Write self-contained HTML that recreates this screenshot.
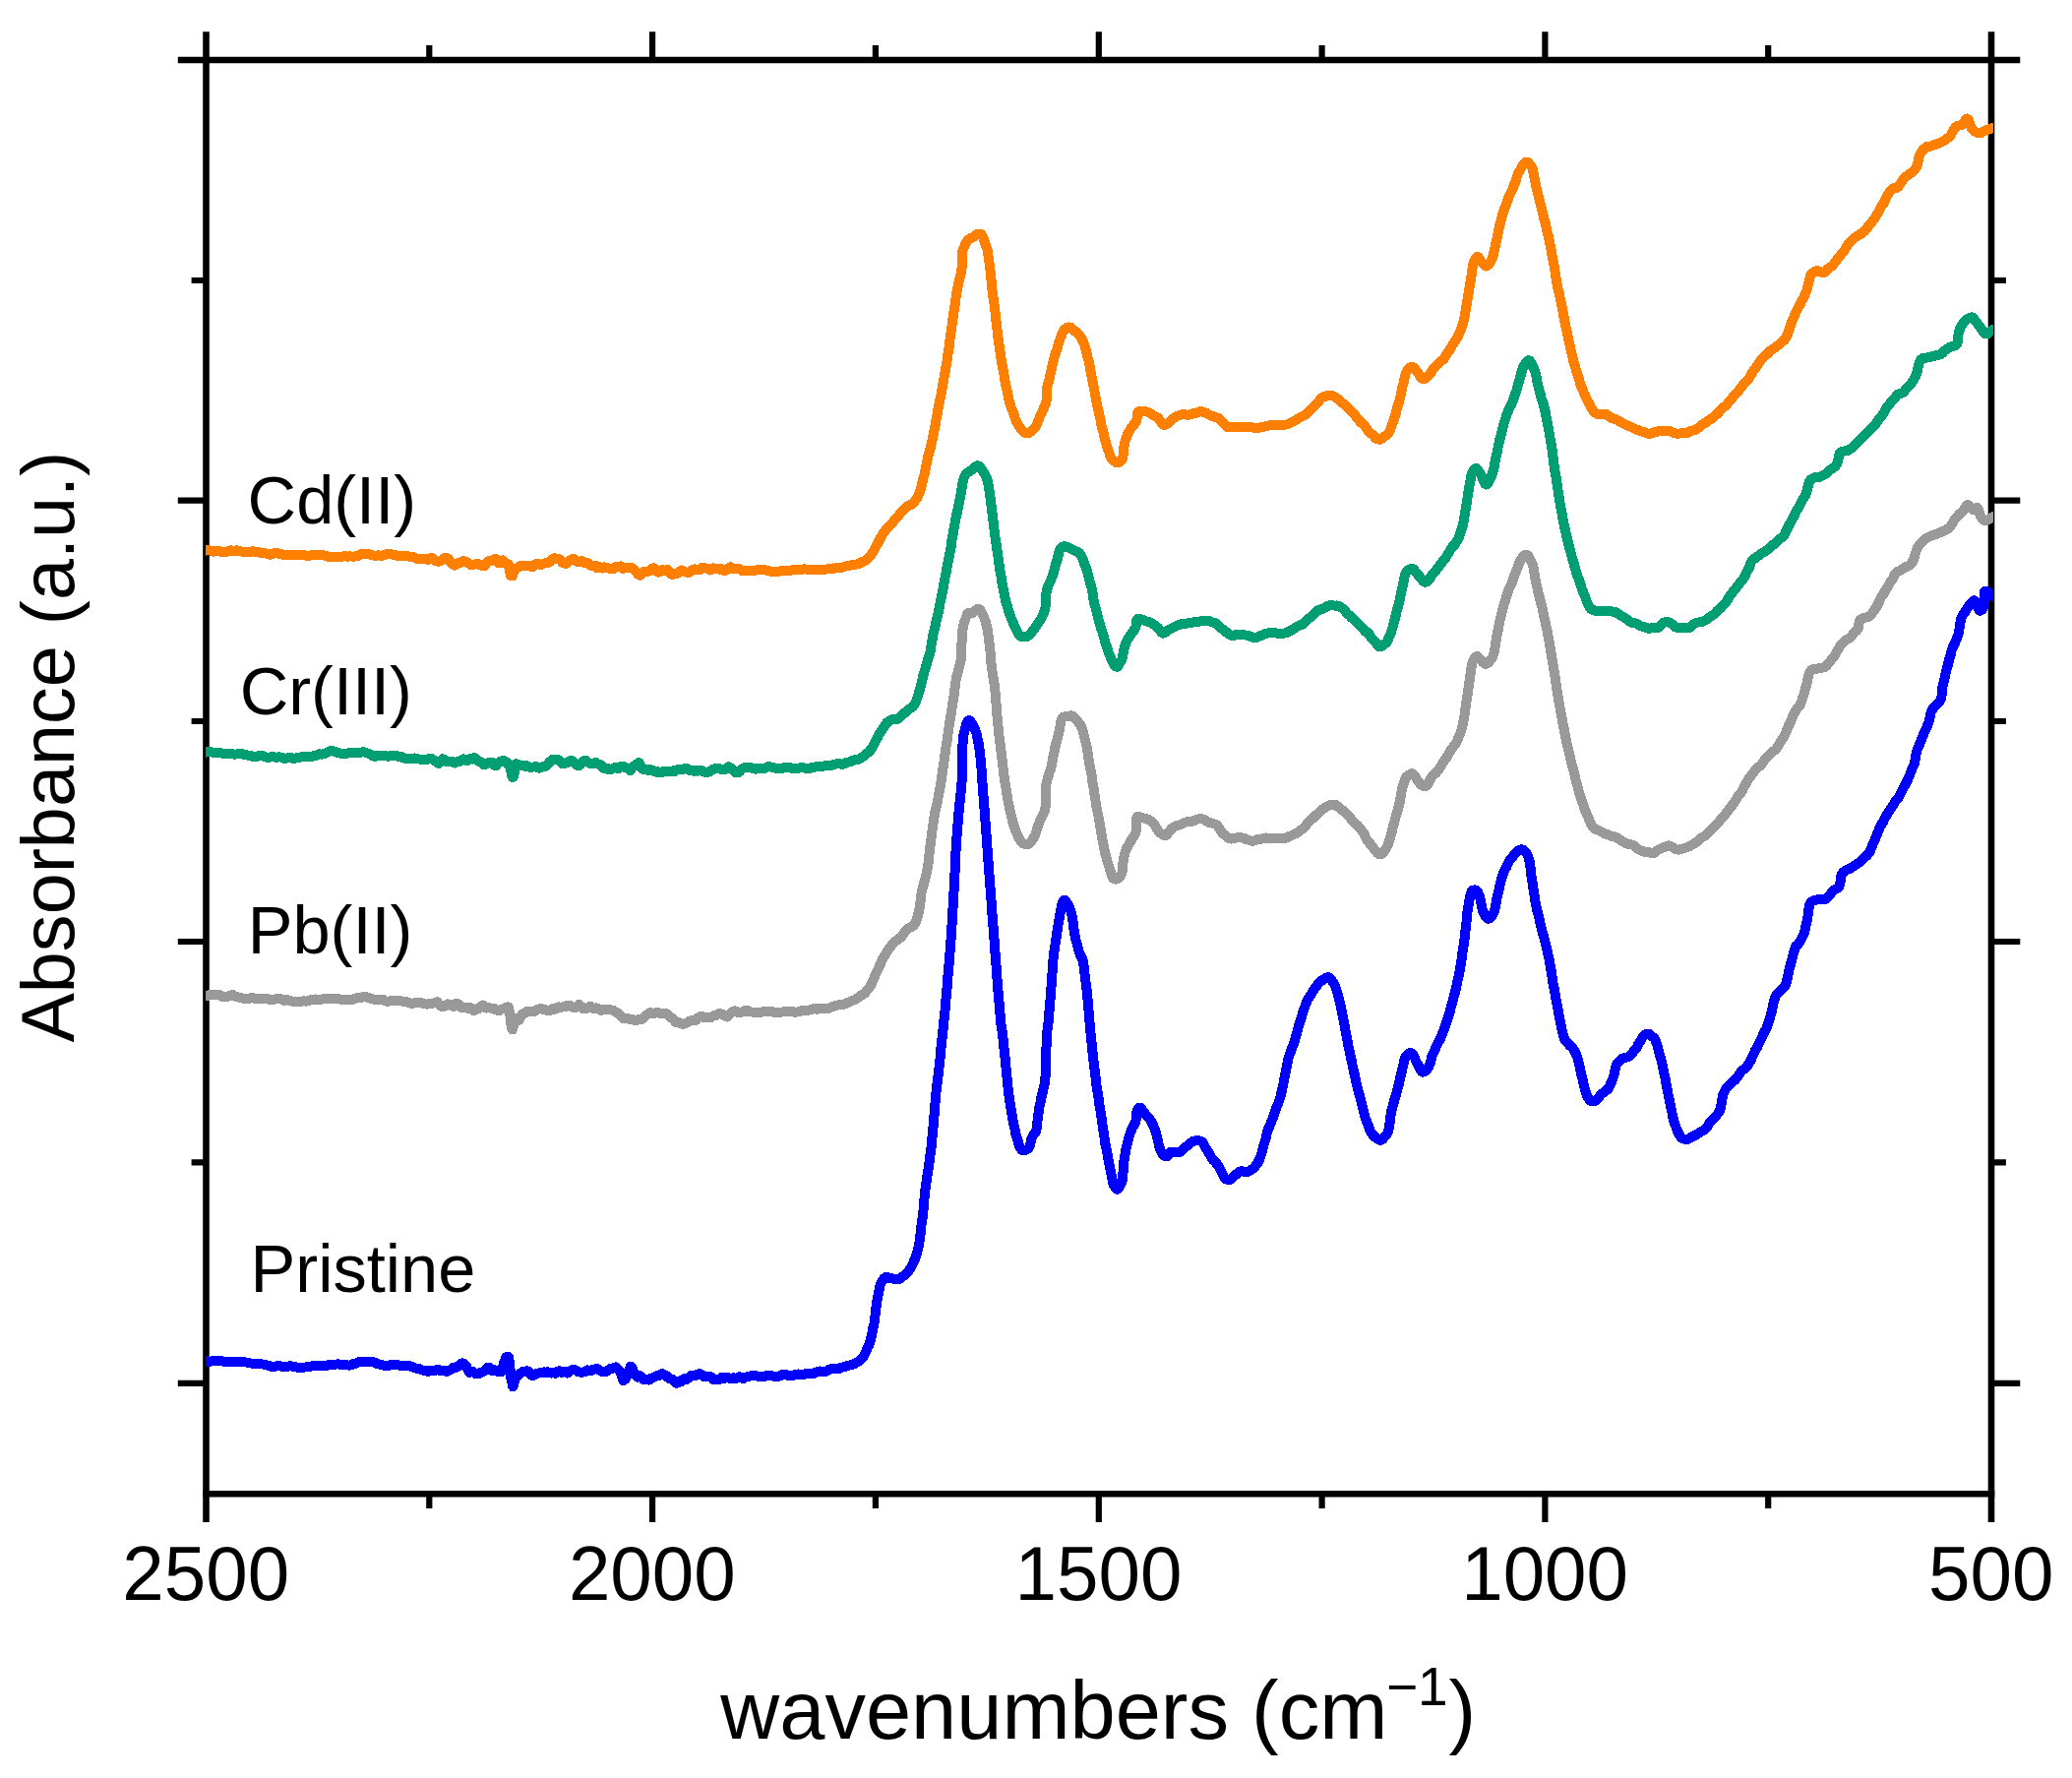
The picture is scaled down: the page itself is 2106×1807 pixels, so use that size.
<!DOCTYPE html>
<html lang="en"><head><meta charset="utf-8"><title>FTIR absorbance spectra</title>
<style>html,body{margin:0;padding:0;background:#fff}svg{display:block}</style></head>
<body>
<svg width="2106" height="1807" viewBox="0 0 2106 1807">
<rect width="2106" height="1807" fill="#fff"/>
<defs><clipPath id="c"><rect x="209" y="20" width="1817" height="1520"/></clipPath></defs>
<g stroke="#000" stroke-width="6.6" fill="none" stroke-linecap="butt">
<path d="M180.79999999999998 61.0H2053.3"/>
<path d="M206.2 1518.2H2027.3"/>
<path d="M209.5 32.2V1547.0"/>
<path d="M2024.0 32.2V1547.0"/>
</g>
<g stroke="#000" stroke-width="6.2" fill="none">
<path d="M663.1 61.0v-28.8M663.1 1518.2v28.8"/>
<path d="M1116.8 61.0v-28.8M1116.8 1518.2v28.8"/>
<path d="M1570.4 61.0v-28.8M1570.4 1518.2v28.8"/>
<path d="M436.3 61.0v-14.899999999999999M436.3 1518.2v14.899999999999999"/>
<path d="M889.9 61.0v-14.899999999999999M889.9 1518.2v14.899999999999999"/>
<path d="M1343.6 61.0v-14.899999999999999M1343.6 1518.2v14.899999999999999"/>
<path d="M1797.2 61.0v-14.899999999999999M1797.2 1518.2v14.899999999999999"/>
<path d="M209.5 508.7h-28.7M2024.0 508.7h29.3"/>
<path d="M209.5 957.0h-28.7M2024.0 957.0h29.3"/>
<path d="M209.5 1405.8h-28.7M2024.0 1405.8h29.3"/>
<path d="M209.5 285.0h-14.899999999999999M2024.0 285.0h14.899999999999999"/>
<path d="M209.5 733.0h-14.899999999999999M2024.0 733.0h14.899999999999999"/>
<path d="M209.5 1181.3h-14.899999999999999M2024.0 1181.3h14.899999999999999"/>
</g>
<g clip-path="url(#c)" fill="none" stroke-width="10.0" stroke-linejoin="round" stroke-linecap="butt" shape-rendering="crispEdges">
<path id="p0" stroke="#0000FF" d="M206.5 1382.7L209.5 1382.7L211.5 1383.9L213.4 1383.8L215.3 1383.3L217.3 1382.8L219.2 1382.6L221.1 1382.8L223.1 1383.1L225.0 1383.3L226.9 1383.5L228.9 1384.1L230.8 1383.9L232.8 1384.0L234.7 1383.9L236.7 1384.0L238.6 1384.2L240.6 1384.2L242.6 1384.0L244.6 1384.5L246.6 1384.4L248.6 1384.4L250.7 1384.6L252.6 1385.0L254.5 1385.5L256.4 1385.5L258.3 1385.5L260.3 1385.6L262.3 1385.7L264.3 1386.3L266.3 1386.4L268.3 1386.7L270.3 1387.3L272.3 1387.7L274.3 1388.3L276.4 1388.9L278.4 1388.9L280.4 1388.6L282.4 1387.9L284.4 1388.1L286.4 1388.8L288.4 1389.1L290.3 1389.1L292.2 1388.8L294.1 1388.3L296.0 1388.3L297.8 1388.7L299.6 1389.0L301.4 1389.4L303.6 1389.9L305.7 1390.0L307.8 1389.9L309.9 1389.5L312.0 1389.4L314.0 1389.2L316.1 1388.6L318.1 1388.1L320.0 1388.2L322.0 1388.1L323.9 1388.1L325.8 1387.8L327.7 1388.1L329.6 1388.4L331.4 1388.0L333.3 1387.4L335.1 1387.0L337.2 1387.0L339.4 1386.9L341.5 1386.6L343.6 1386.2L345.7 1386.7L347.7 1387.4L349.7 1387.5L351.7 1387.4L353.6 1387.5L355.4 1387.6L357.1 1387.2L358.8 1386.2L360.7 1386.2L362.4 1385.4L364.0 1384.5L365.6 1384.0L367.1 1383.8L368.8 1384.1L370.6 1383.7L372.3 1383.8L374.0 1383.7L375.8 1384.1L377.7 1383.9L379.6 1384.3L381.5 1385.0L383.4 1385.9L385.3 1386.4L387.3 1387.0L389.2 1387.5L391.0 1387.6L392.8 1387.9L394.6 1388.1L396.4 1387.4L398.2 1387.5L400.0 1387.2L401.9 1387.0L403.7 1387.0L405.6 1387.5L407.6 1387.8L409.5 1387.7L411.3 1387.9L413.2 1387.6L415.1 1387.8L417.1 1388.4L419.0 1389.2L421.0 1390.1L423.0 1390.6L425.0 1390.9L427.0 1391.4L428.9 1392.3L430.9 1392.8L432.8 1392.6L434.7 1393.8L436.5 1393.6L438.4 1393.2L440.4 1392.8L442.2 1392.8L444.1 1392.2L445.9 1392.2L447.7 1393.5L449.5 1393.4L451.3 1393.0L453.1 1393.7L455.0 1393.6L456.8 1392.7L458.7 1391.4L460.6 1390.0L462.5 1389.8L464.4 1389.5L466.3 1387.8L468.2 1386.1L470.1 1385.3L471.9 1386.0L473.7 1387.8L475.4 1392.2L477.0 1394.9L478.9 1394.0L480.7 1394.0L482.4 1395.3L484.1 1396.5L485.7 1396.4L487.3 1395.4L488.9 1394.9L490.6 1394.1L492.3 1393.4L494.0 1392.2L495.6 1389.6L497.3 1389.8L499.0 1391.7L500.7 1393.1L502.5 1392.2L504.3 1392.8L506.0 1393.9L507.6 1394.5L509.1 1394.4L510.4 1391.5L511.5 1387.3L512.5 1384.0L513.5 1381.6L514.3 1379.6L515.1 1378.9L515.9 1379.3L516.4 1378.7L516.9 1379.1L517.3 1380.5L517.6 1382.6L518.0 1386.9L518.3 1389.8L518.6 1392.2L518.8 1395.8L519.1 1398.8L519.4 1400.4L519.6 1402.0L519.9 1403.4L520.2 1403.3L520.5 1405.6L520.9 1408.5L521.4 1409.5L522.0 1408.4L522.5 1405.5L523.2 1403.0L524.0 1400.7L525.4 1398.5L527.2 1397.2L529.4 1395.5L530.7 1394.6L532.2 1393.6L533.9 1394.1L535.7 1393.3L537.6 1394.1L539.6 1397.1L541.7 1398.1L543.8 1397.3L546.0 1395.6L548.2 1395.4L550.4 1394.9L552.6 1394.4L554.7 1394.9L556.6 1394.1L558.5 1395.1L560.4 1395.6L562.4 1395.3L564.4 1395.7L566.4 1393.9L568.5 1393.3L570.5 1394.8L572.6 1394.6L574.6 1394.0L576.6 1395.5L578.7 1393.6L580.7 1392.5L582.7 1392.3L584.7 1392.4L586.6 1393.5L588.5 1394.4L590.5 1394.6L592.6 1394.6L594.6 1394.1L596.7 1392.4L598.7 1392.9L600.7 1393.0L602.7 1392.0L604.6 1391.5L606.6 1390.9L608.4 1391.8L610.3 1393.1L612.1 1393.9L613.8 1394.2L615.5 1394.0L617.7 1393.0L619.9 1391.2L622.1 1390.8L624.1 1390.0L626.1 1389.4L627.9 1391.0L629.4 1392.6L630.7 1394.5L631.9 1398.0L632.7 1400.4L633.3 1403.0L634.1 1402.9L634.8 1401.9L635.6 1401.5L636.4 1400.6L637.2 1397.0L638.0 1395.5L639.0 1394.0L639.9 1391.3L640.9 1388.7L641.8 1388.8L642.8 1390.4L643.7 1393.4L644.7 1395.4L645.8 1397.2L646.9 1398.6L648.1 1399.6L649.5 1398.6L651.0 1398.3L652.5 1400.1L654.1 1402.2L655.8 1402.1L657.7 1402.0L659.6 1402.6L661.6 1400.9L663.6 1400.1L665.6 1399.2L667.6 1398.1L669.5 1398.1L671.3 1396.8L673.0 1395.9L674.9 1397.1L676.7 1397.7L678.5 1399.6L680.3 1400.9L682.0 1401.4L683.7 1402.0L685.2 1403.9L686.8 1405.7L688.2 1405.7L689.7 1404.7L691.0 1403.3L692.2 1404.3L693.4 1403.6L694.9 1401.6L696.6 1400.9L698.0 1401.8L699.5 1400.6L701.2 1399.6L703.0 1397.7L704.9 1398.0L706.8 1397.9L708.9 1396.6L710.9 1396.2L713.0 1397.1L715.2 1398.9L717.3 1399.1L719.4 1398.9L721.5 1398.6L723.6 1400.3L725.5 1402.5L727.4 1402.2L729.3 1402.1L731.3 1401.8L733.3 1399.8L735.2 1401.1L737.2 1400.5L739.3 1399.8L741.3 1400.4L743.3 1401.3L745.3 1400.2L747.3 1401.0L749.4 1400.3L751.4 1399.3L753.4 1400.3L755.4 1401.2L757.4 1399.7L759.4 1399.2L761.4 1398.9L763.4 1398.3L765.4 1398.5L767.3 1398.4L769.3 1398.4L771.3 1398.9L773.3 1399.1L775.3 1399.0L777.3 1398.7L779.3 1398.2L781.3 1398.1L783.2 1398.2L785.2 1398.5L787.2 1398.7L789.2 1398.8L791.2 1398.7L793.2 1398.2L795.2 1397.2L797.2 1396.9L799.2 1397.3L801.3 1397.9L803.3 1398.0L805.3 1398.1L807.3 1397.5L809.4 1396.7L811.4 1396.5L813.4 1396.8L815.4 1397.2L817.3 1396.8L819.3 1396.0L821.2 1395.8L823.1 1395.8L825.0 1396.4L827.1 1395.8L829.1 1394.6L831.2 1394.1L833.4 1393.5L835.4 1393.9L837.5 1394.2L839.6 1393.6L841.6 1392.7L843.5 1391.5L845.4 1390.9L847.2 1391.1L848.9 1391.2L850.5 1391.5L852.0 1391.2L854.2 1390.2L856.2 1389.5L858.0 1389.2L859.8 1388.6L861.6 1387.8L863.2 1387.6L864.8 1387.1L866.4 1386.8L867.9 1386.3L869.4 1385.4L870.9 1384.5L872.4 1383.7L873.9 1382.6L875.3 1381.6L876.6 1380.3L877.9 1378.5L879.0 1376.1L880.0 1373.9L880.8 1372.1L881.6 1370.1L882.3 1368.6L883.0 1367.6L883.6 1366.2L884.1 1364.6L884.6 1362.6L885.1 1360.7L885.5 1359.1L886.0 1357.5L886.3 1355.7L886.7 1353.6L887.1 1351.4L887.4 1349.4L887.8 1348.2L888.1 1347.3L888.4 1345.9L888.6 1343.9L888.9 1341.7L889.1 1339.7L889.4 1337.9L889.6 1336.4L889.8 1334.9L890.0 1333.4L890.2 1331.7L890.4 1329.7L890.6 1327.7L890.9 1325.9L891.1 1324.3L891.4 1322.4L891.7 1320.7L892.0 1319.0L892.4 1317.3L892.7 1315.2L893.1 1313.0L893.5 1311.1L894.0 1309.1L894.4 1307.2L894.9 1305.4L895.5 1303.8L896.3 1302.4L897.3 1300.9L898.4 1299.6L899.7 1298.5L901.0 1297.8L902.4 1298.1L903.8 1298.8L905.3 1299.2L906.8 1299.4L908.7 1299.8L910.7 1300.4L912.6 1300.5L914.0 1300.0L915.4 1299.1L916.8 1298.0L918.2 1297.0L919.5 1295.9L920.8 1294.8L922.0 1293.5L923.2 1292.1L924.3 1290.7L925.3 1289.1L926.2 1287.5L927.1 1286.0L927.9 1284.4L928.6 1282.6L929.3 1280.9L930.0 1279.4L930.6 1278.0L931.1 1276.5L931.6 1275.0L932.1 1273.4L932.5 1271.8L932.9 1270.1L933.3 1268.4L933.7 1266.6L934.0 1265.1L934.3 1263.4L934.6 1261.3L934.9 1259.2L935.2 1257.2L935.4 1255.3L935.6 1253.4L935.8 1251.7L936.0 1250.1L936.1 1248.5L936.3 1246.9L936.5 1245.3L936.7 1243.5L937.0 1241.5L937.3 1239.8L937.6 1238.2L937.9 1236.0L938.1 1233.5L938.3 1231.5L938.5 1230.2L938.6 1228.9L938.8 1227.1L938.9 1225.0L939.1 1222.9L939.2 1220.9L939.4 1218.9L939.6 1216.9L939.8 1215.1L940.0 1213.1L940.2 1211.0L940.5 1208.8L940.7 1206.7L941.0 1204.8L941.2 1203.4L941.5 1201.8L941.7 1200.0L942.0 1197.9L942.3 1195.7L942.6 1193.8L942.9 1192.2L943.2 1190.5L943.5 1188.9L943.8 1187.1L944.1 1185.1L944.3 1183.0L944.6 1181.0L944.8 1179.0L945.1 1176.9L945.3 1174.7L945.6 1172.6L945.8 1170.8L946.0 1169.1L946.2 1167.7L946.5 1166.4L946.7 1164.6L946.9 1162.4L947.1 1160.0L947.3 1157.8L947.5 1155.6L947.7 1153.5L947.9 1151.4L948.1 1149.5L948.3 1147.7L948.5 1145.8L948.6 1143.8L948.8 1141.7L949.0 1139.7L949.1 1137.5L949.3 1135.4L949.5 1133.7L949.6 1132.2L949.8 1130.6L950.0 1128.4L950.1 1126.2L950.3 1124.2L950.4 1122.3L950.6 1120.2L950.7 1118.2L950.9 1116.3L951.0 1114.6L951.2 1112.9L951.4 1110.9L951.6 1108.9L951.8 1107.1L952.0 1105.5L952.3 1103.7L952.5 1101.8L952.7 1099.8L953.0 1097.8L953.2 1095.9L953.5 1093.9L953.7 1091.8L954.0 1089.8L954.2 1087.7L954.4 1085.9L954.6 1084.2L954.8 1082.0L955.0 1079.7L955.2 1078.2L955.4 1077.0L955.6 1075.2L955.8 1072.7L956.0 1070.2L956.1 1068.4L956.3 1066.8L956.5 1064.8L956.7 1062.7L956.9 1060.8L957.1 1059.1L957.3 1057.2L957.5 1055.5L957.7 1053.8L957.9 1052.1L958.1 1049.9L958.3 1047.7L958.6 1045.7L958.8 1044.1L959.0 1042.3L959.2 1039.9L959.4 1037.4L959.6 1035.6L959.8 1034.6L959.9 1033.4L960.1 1031.7L960.3 1029.8L960.5 1027.8L960.6 1025.6L960.8 1023.1L961.0 1020.7L961.1 1018.7L961.3 1017.0L961.5 1015.2L961.7 1013.2L961.8 1011.2L962.0 1009.3L962.2 1007.6L962.4 1006.0L962.5 1004.3L962.7 1002.4L962.9 1000.1L963.1 997.8L963.2 995.8L963.4 993.8L963.5 991.7L963.7 989.9L963.8 988.1L964.0 986.1L964.2 984.1L964.3 982.2L964.5 980.4L964.7 978.3L964.8 976.2L965.0 974.1L965.1 972.1L965.3 970.0L965.5 968.2L965.6 966.7L965.8 965.0L965.9 963.1L966.1 961.1L966.2 959.1L966.4 957.2L966.5 955.1L966.7 953.2L966.8 951.4L966.9 949.5L967.1 947.1L967.2 944.7L967.3 942.5L967.5 940.4L967.6 938.7L967.7 937.3L967.8 935.6L968.0 933.5L968.1 931.1L968.2 928.9L968.3 926.9L968.4 925.2L968.5 923.3L968.6 921.2L968.8 919.1L968.9 917.1L969.0 915.4L969.1 913.5L969.2 911.5L969.3 909.8L969.4 908.3L969.5 906.8L969.6 904.9L969.7 902.6L969.8 900.1L969.9 898.2L970.0 896.8L970.1 895.4L970.2 893.5L970.3 891.4L970.4 889.1L970.5 887.1L970.5 885.3L970.6 883.3L970.7 881.4L970.8 879.7L970.9 877.9L971.0 875.9L971.1 873.5L971.2 871.0L971.3 868.8L971.4 867.0L971.5 865.4L971.6 863.7L971.7 861.9L971.8 859.9L972.0 857.7L972.1 855.6L972.2 853.9L972.4 852.1L972.5 850.1L972.7 848.4L972.8 847.0L973.0 845.4L973.1 843.3L973.3 841.1L973.4 838.8L973.6 836.7L973.7 834.8L973.9 832.8L974.0 830.8L974.2 829.1L974.3 827.4L974.5 825.7L974.7 823.8L974.9 821.8L975.1 819.6L975.3 817.5L975.5 815.6L975.7 813.6L975.9 811.4L976.2 809.2L976.4 807.0L976.6 805.3L976.8 803.8L976.9 802.3L977.1 800.8L977.3 799.3L977.4 797.5L977.5 795.8L977.6 793.6L977.7 791.3L977.7 789.0L977.8 786.8L977.8 784.9L977.9 783.0L977.9 780.7L977.9 778.2L977.9 776.2L978.0 774.5L978.0 772.6L978.0 770.2L978.0 767.6L978.1 765.5L978.1 763.7L978.2 762.2L978.2 760.8L978.3 759.4L978.4 758.0L978.5 755.8L978.7 753.9L978.8 751.9L979.0 749.9L979.2 748.0L979.5 746.5L979.9 744.8L980.4 742.6L981.1 739.9L981.8 737.3L982.6 735.1L983.4 733.3L984.3 732.2L985.1 732.0L985.9 732.5L986.8 733.6L987.7 735.1L988.6 736.6L989.5 738.1L990.4 740.0L991.2 742.0L991.9 743.6L992.5 745.1L993.0 747.3L993.4 749.7L993.9 751.8L994.2 753.6L994.6 755.4L994.9 757.3L995.2 759.4L995.5 761.5L995.8 763.7L996.0 765.4L996.2 767.2L996.4 769.3L996.6 771.1L996.8 772.5L997.0 773.9L997.1 775.9L997.3 778.0L997.4 780.0L997.6 782.1L997.7 784.3L997.9 786.6L998.0 788.7L998.1 790.8L998.3 793.0L998.4 794.9L998.6 796.6L998.7 798.3L998.9 800.5L999.0 802.8L999.2 804.6L999.3 806.3L999.5 808.5L999.6 810.6L999.8 812.2L999.9 813.5L1000.1 814.9L1000.2 816.8L1000.3 819.1L1000.5 821.4L1000.6 823.3L1000.8 824.9L1000.9 826.5L1001.1 828.5L1001.2 830.8L1001.4 833.0L1001.5 835.0L1001.6 837.1L1001.8 839.1L1001.9 841.0L1002.1 842.9L1002.2 844.6L1002.4 846.2L1002.5 848.2L1002.7 850.4L1002.8 852.3L1003.0 854.1L1003.1 856.0L1003.2 858.0L1003.4 859.9L1003.5 861.9L1003.7 864.0L1003.8 866.0L1004.0 868.1L1004.1 870.2L1004.3 872.3L1004.4 874.0L1004.5 875.3L1004.7 876.9L1004.8 879.0L1005.0 881.4L1005.1 883.8L1005.3 886.1L1005.4 888.1L1005.6 889.7L1005.7 891.4L1005.9 893.1L1006.0 895.1L1006.1 897.2L1006.3 899.1L1006.4 900.8L1006.6 902.7L1006.7 904.8L1006.9 906.7L1007.0 908.4L1007.2 910.1L1007.3 912.0L1007.4 914.0L1007.6 916.0L1007.7 918.0L1007.9 919.8L1008.0 921.9L1008.2 924.4L1008.3 927.0L1008.5 929.2L1008.6 930.8L1008.7 932.0L1008.9 933.6L1009.0 935.6L1009.2 937.7L1009.3 939.5L1009.5 941.4L1009.6 943.3L1009.8 945.3L1009.9 947.3L1010.1 949.4L1010.2 951.3L1010.3 953.0L1010.5 954.5L1010.6 956.1L1010.8 958.0L1010.9 960.1L1011.1 962.2L1011.2 964.3L1011.3 966.4L1011.5 968.3L1011.6 970.0L1011.8 971.8L1011.9 973.6L1012.0 975.5L1012.2 977.5L1012.3 979.5L1012.5 981.1L1012.6 982.9L1012.8 984.8L1012.9 987.1L1013.1 989.5L1013.2 991.6L1013.4 993.4L1013.5 995.1L1013.7 996.8L1013.9 998.8L1014.0 1000.9L1014.2 1003.0L1014.3 1005.1L1014.5 1007.4L1014.7 1009.7L1014.8 1011.6L1015.0 1013.4L1015.2 1015.1L1015.3 1016.7L1015.5 1018.5L1015.7 1020.5L1015.8 1022.6L1016.0 1024.6L1016.2 1026.7L1016.3 1028.6L1016.5 1030.3L1016.7 1032.2L1016.8 1034.3L1017.0 1036.2L1017.2 1038.7L1017.5 1041.1L1017.7 1043.0L1018.0 1044.3L1018.2 1045.8L1018.5 1047.2L1018.7 1048.9L1019.0 1051.0L1019.2 1053.1L1019.4 1055.1L1019.7 1057.1L1019.9 1059.4L1020.1 1061.3L1020.3 1063.2L1020.5 1065.2L1020.7 1066.8L1020.9 1068.1L1021.1 1069.8L1021.3 1072.0L1021.5 1074.4L1021.7 1076.7L1021.8 1078.6L1022.0 1080.3L1022.2 1082.1L1022.4 1084.0L1022.6 1085.8L1022.8 1087.4L1023.0 1089.3L1023.2 1091.7L1023.4 1093.9L1023.6 1095.9L1023.8 1097.8L1024.0 1099.6L1024.2 1101.5L1024.4 1103.6L1024.6 1105.9L1024.8 1107.8L1025.0 1109.5L1025.2 1111.5L1025.5 1113.6L1025.7 1115.3L1026.0 1117.1L1026.3 1118.9L1026.6 1120.6L1026.9 1122.4L1027.2 1124.3L1027.5 1126.3L1027.8 1128.5L1028.1 1130.4L1028.5 1132.4L1028.8 1134.5L1029.2 1136.7L1029.5 1138.5L1029.9 1140.4L1030.3 1142.2L1030.7 1144.0L1031.1 1146.0L1031.6 1148.3L1032.0 1150.7L1032.5 1152.9L1032.9 1154.5L1033.4 1155.6L1033.9 1156.8L1034.4 1158.4L1034.9 1160.5L1035.4 1162.7L1035.9 1164.4L1036.6 1165.7L1037.3 1167.2L1038.5 1168.8L1039.8 1169.5L1041.1 1169.4L1042.7 1168.8L1044.4 1167.7L1045.9 1166.4L1046.7 1165.1L1047.2 1163.6L1047.5 1161.8L1047.8 1160.0L1048.2 1158.1L1048.8 1156.2L1049.7 1154.3L1050.8 1152.7L1051.8 1151.5L1052.7 1150.3L1053.2 1149.0L1053.6 1147.1L1053.9 1144.7L1054.1 1142.4L1054.4 1140.3L1054.6 1138.1L1054.8 1136.0L1055.0 1134.2L1055.3 1132.5L1055.6 1130.7L1056.0 1128.5L1056.3 1126.1L1056.7 1124.0L1057.1 1122.1L1057.5 1120.2L1057.9 1118.2L1058.3 1116.0L1058.7 1114.1L1059.1 1112.4L1059.5 1111.0L1059.9 1109.5L1060.3 1107.7L1060.7 1105.9L1061.1 1104.2L1061.5 1102.6L1061.8 1100.7L1062.1 1098.2L1062.4 1095.5L1062.6 1093.5L1062.7 1091.7L1062.8 1089.9L1062.9 1088.3L1063.0 1086.6L1063.0 1084.7L1063.0 1082.5L1063.1 1080.2L1063.1 1077.7L1063.1 1075.3L1063.1 1073.1L1063.2 1071.5L1063.2 1070.3L1063.3 1068.9L1063.4 1066.6L1063.5 1064.2L1063.6 1061.9L1063.6 1059.9L1063.7 1058.0L1063.8 1056.0L1063.9 1053.7L1064.0 1051.7L1064.2 1050.1L1064.3 1048.7L1064.5 1047.1L1064.7 1045.5L1064.9 1043.8L1065.1 1042.3L1065.3 1040.8L1065.6 1039.0L1065.8 1036.7L1066.0 1034.5L1066.1 1032.1L1066.3 1030.2L1066.4 1028.6L1066.6 1027.1L1066.8 1025.7L1066.9 1024.0L1067.1 1021.9L1067.3 1019.6L1067.4 1017.2L1067.6 1015.2L1067.8 1013.4L1067.9 1011.5L1068.1 1009.2L1068.2 1007.1L1068.4 1005.2L1068.5 1003.5L1068.6 1001.5L1068.8 999.5L1068.9 997.7L1069.0 995.7L1069.2 993.5L1069.3 991.4L1069.5 989.6L1069.6 987.8L1069.7 985.9L1069.9 983.9L1070.0 981.6L1070.2 979.0L1070.3 976.8L1070.5 975.1L1070.7 973.6L1070.8 972.1L1071.0 970.6L1071.3 968.6L1071.5 966.6L1071.8 964.7L1072.1 962.8L1072.4 960.7L1072.7 958.7L1073.0 956.7L1073.3 954.9L1073.6 952.9L1073.9 950.6L1074.2 948.5L1074.5 946.7L1074.8 945.0L1075.1 943.1L1075.4 940.8L1075.7 938.5L1076.0 936.6L1076.4 935.2L1076.7 933.5L1077.1 931.2L1077.4 929.0L1077.8 927.3L1078.2 924.8L1078.7 922.0L1079.1 919.8L1079.5 918.2L1080.0 917.0L1080.5 916.3L1081.1 915.4L1081.7 914.8L1082.5 915.0L1083.5 916.0L1084.5 917.5L1085.6 919.4L1086.6 921.6L1087.6 924.0L1088.4 926.1L1088.9 927.8L1089.4 929.8L1089.8 932.0L1090.1 933.9L1090.4 935.5L1090.7 937.3L1090.9 939.3L1091.2 941.5L1091.4 943.5L1091.7 945.6L1092.0 947.8L1092.3 949.6L1092.7 951.6L1093.2 953.6L1093.6 955.6L1094.1 957.3L1094.6 958.9L1095.1 960.6L1095.6 962.7L1096.1 964.8L1096.7 967.0L1097.4 969.1L1098.1 970.8L1098.8 972.1L1099.4 973.1L1100.0 974.4L1100.4 975.6L1100.8 977.2L1101.1 979.0L1101.4 980.5L1101.6 982.1L1101.9 984.2L1102.1 986.8L1102.4 989.1L1102.6 991.2L1102.9 993.1L1103.1 994.9L1103.4 997.0L1103.6 999.1L1103.9 1001.1L1104.1 1002.9L1104.3 1004.5L1104.6 1006.2L1104.8 1008.2L1105.0 1010.4L1105.2 1012.4L1105.4 1014.4L1105.6 1016.7L1105.8 1018.9L1106.0 1021.2L1106.2 1023.0L1106.3 1024.6L1106.5 1026.6L1106.6 1028.5L1106.8 1030.2L1106.9 1031.9L1107.1 1033.8L1107.3 1036.2L1107.4 1038.1L1107.6 1039.9L1107.8 1041.8L1107.9 1043.5L1108.1 1044.9L1108.2 1046.5L1108.4 1048.5L1108.6 1050.8L1108.7 1052.7L1108.9 1054.3L1109.1 1056.0L1109.3 1057.8L1109.5 1059.6L1109.7 1061.7L1109.9 1064.1L1110.1 1066.3L1110.3 1067.8L1110.5 1069.4L1110.7 1071.3L1110.9 1073.4L1111.1 1075.5L1111.4 1077.5L1111.6 1079.2L1111.8 1080.7L1112.1 1082.2L1112.3 1084.1L1112.5 1086.5L1112.8 1089.1L1113.0 1091.4L1113.3 1093.2L1113.5 1094.7L1113.8 1096.4L1114.0 1098.5L1114.3 1100.8L1114.5 1103.2L1114.8 1105.5L1115.1 1107.2L1115.3 1108.8L1115.6 1110.3L1115.9 1111.7L1116.2 1113.5L1116.5 1115.6L1116.8 1118.0L1117.1 1120.2L1117.3 1122.2L1117.6 1123.9L1117.9 1125.4L1118.2 1127.0L1118.5 1128.9L1118.8 1130.9L1119.1 1132.9L1119.4 1134.9L1119.7 1136.8L1119.9 1138.7L1120.2 1140.7L1120.5 1142.8L1120.8 1145.0L1121.1 1147.2L1121.4 1149.0L1121.7 1150.7L1122.0 1152.4L1122.3 1154.5L1122.6 1156.8L1122.9 1159.1L1123.2 1161.1L1123.5 1163.0L1123.9 1164.9L1124.2 1166.5L1124.6 1168.1L1124.9 1170.0L1125.3 1172.0L1125.7 1173.8L1126.1 1175.6L1126.4 1177.7L1126.8 1179.7L1127.1 1181.6L1127.5 1183.5L1127.9 1185.6L1128.2 1187.5L1128.6 1189.2L1129.0 1190.5L1129.3 1192.1L1129.7 1194.2L1130.1 1196.4L1130.5 1198.6L1130.9 1201.0L1131.4 1203.2L1131.9 1204.5L1132.7 1205.7L1133.6 1206.9L1134.6 1208.1L1135.5 1208.8L1136.6 1208.3L1137.8 1206.6L1138.9 1204.4L1139.8 1202.4L1140.2 1201.5L1140.6 1200.3L1140.9 1198.4L1141.1 1195.8L1141.3 1193.5L1141.5 1191.9L1141.6 1190.2L1141.8 1188.0L1141.9 1185.4L1142.1 1183.4L1142.2 1182.0L1142.4 1180.6L1142.7 1178.7L1143.0 1176.3L1143.4 1173.9L1143.8 1171.4L1144.2 1169.1L1144.6 1167.4L1145.0 1165.9L1145.4 1164.2L1145.9 1162.2L1146.3 1160.1L1146.8 1158.3L1147.3 1156.5L1147.8 1154.7L1148.3 1153.1L1148.8 1151.7L1149.4 1150.1L1150.0 1148.3L1150.8 1146.3L1151.8 1144.7L1152.7 1143.2L1153.6 1141.6L1154.3 1139.8L1154.7 1138.0L1154.9 1135.9L1155.0 1133.8L1155.1 1132.1L1155.3 1130.4L1155.7 1128.7L1156.7 1126.6L1157.9 1125.5L1158.9 1125.5L1160.0 1126.4L1161.3 1128.2L1162.5 1130.2L1163.7 1131.7L1164.9 1133.1L1166.1 1134.5L1167.3 1135.8L1168.4 1137.0L1169.5 1138.6L1170.3 1140.1L1171.1 1141.7L1171.9 1143.4L1172.6 1145.1L1173.3 1146.9L1174.0 1148.7L1174.6 1150.4L1175.1 1151.9L1175.6 1153.7L1176.1 1155.5L1176.5 1157.3L1176.9 1159.1L1177.3 1160.9L1177.7 1162.9L1178.2 1164.8L1178.8 1166.8L1179.5 1168.6L1180.1 1170.5L1180.9 1172.1L1181.8 1173.2L1183.1 1174.4L1184.6 1175.2L1186.1 1175.3L1187.2 1174.6L1188.2 1173.0L1189.2 1171.4L1190.5 1170.5L1192.3 1170.5L1194.4 1171.0L1196.5 1171.4L1198.5 1171.1L1200.0 1170.3L1201.5 1169.2L1202.9 1167.9L1204.3 1166.4L1205.7 1165.3L1207.0 1164.6L1208.2 1163.7L1209.5 1162.4L1210.8 1161.2L1212.2 1160.2L1214.1 1159.6L1216.3 1159.2L1218.3 1159.2L1220.2 1159.7L1221.6 1160.5L1222.8 1161.7L1223.9 1163.6L1224.9 1165.7L1226.0 1167.5L1227.0 1168.9L1227.9 1170.4L1228.9 1172.1L1229.8 1173.9L1230.8 1175.7L1231.8 1177.5L1232.9 1178.9L1234.1 1180.0L1235.3 1181.2L1236.5 1182.5L1237.5 1183.6L1238.5 1184.9L1239.4 1186.7L1240.2 1188.6L1241.0 1190.3L1241.9 1191.8L1242.9 1193.8L1244.0 1196.0L1245.1 1197.7L1246.2 1198.5L1248.0 1199.0L1249.8 1198.9L1251.0 1198.2L1252.3 1197.1L1253.6 1195.8L1254.9 1194.8L1256.3 1193.7L1257.7 1192.4L1259.2 1191.2L1260.7 1190.4L1262.4 1190.2L1264.3 1190.7L1266.1 1191.2L1267.9 1191.1L1269.4 1190.5L1271.0 1189.5L1272.5 1188.5L1273.9 1187.4L1275.2 1186.0L1276.4 1184.4L1277.5 1183.0L1278.5 1181.6L1279.4 1179.9L1280.3 1177.8L1281.0 1176.2L1281.5 1174.6L1282.1 1172.8L1282.6 1170.7L1283.1 1168.8L1283.6 1167.1L1284.1 1165.3L1284.6 1163.3L1285.1 1161.6L1285.6 1160.1L1286.1 1158.8L1286.6 1157.0L1287.0 1154.7L1287.6 1152.5L1288.1 1150.6L1288.6 1148.8L1289.1 1147.4L1289.7 1146.0L1290.4 1144.6L1291.1 1143.1L1291.8 1141.3L1292.6 1139.2L1293.3 1137.2L1294.0 1135.4L1294.8 1133.4L1295.5 1131.1L1296.2 1129.1L1296.8 1127.2L1297.5 1125.4L1298.1 1124.0L1298.8 1122.6L1299.4 1120.9L1300.0 1119.1L1300.6 1117.4L1301.2 1115.7L1301.7 1114.1L1302.1 1112.1L1302.5 1110.0L1303.0 1108.1L1303.3 1106.5L1303.7 1104.9L1304.1 1103.1L1304.5 1101.1L1304.8 1099.0L1305.2 1097.1L1305.6 1095.2L1306.0 1093.1L1306.4 1091.1L1306.7 1089.2L1307.1 1087.5L1307.4 1085.8L1307.8 1084.1L1308.2 1082.4L1308.6 1080.3L1309.0 1077.9L1309.4 1075.8L1309.9 1074.2L1310.4 1072.7L1311.0 1071.3L1311.6 1069.7L1312.2 1067.9L1312.8 1066.0L1313.4 1064.3L1314.1 1062.7L1314.7 1061.1L1315.4 1059.5L1316.0 1057.5L1316.5 1055.5L1317.0 1053.7L1317.6 1051.9L1318.1 1049.9L1318.6 1048.0L1319.1 1046.1L1319.6 1044.0L1320.2 1042.1L1320.7 1040.4L1321.2 1038.7L1321.8 1037.2L1322.3 1035.7L1322.9 1034.1L1323.4 1032.2L1324.0 1029.8L1324.7 1027.7L1325.3 1025.9L1326.0 1024.2L1326.6 1022.4L1327.3 1020.3L1327.9 1018.6L1328.6 1017.2L1329.3 1015.6L1330.1 1014.3L1331.2 1012.7L1332.3 1011.0L1333.4 1009.1L1334.6 1007.3L1335.7 1005.5L1336.9 1003.9L1338.0 1002.4L1339.1 1000.9L1340.1 999.4L1341.2 998.0L1342.4 997.1L1343.6 996.5L1345.3 995.5L1347.0 994.4L1348.8 993.4L1350.4 993.2L1351.7 994.2L1352.9 995.6L1354.1 997.1L1355.2 998.6L1356.2 1000.3L1356.8 1001.6L1357.5 1003.3L1358.0 1005.0L1358.6 1006.6L1359.1 1008.1L1359.6 1009.7L1360.1 1011.6L1360.6 1013.8L1361.1 1015.9L1361.5 1017.8L1362.0 1019.7L1362.5 1021.6L1362.9 1023.5L1363.3 1025.6L1363.7 1027.6L1364.1 1029.4L1364.5 1031.3L1364.9 1033.5L1365.3 1035.6L1365.6 1037.4L1366.0 1039.2L1366.4 1041.3L1366.8 1043.3L1367.2 1045.2L1367.5 1047.2L1367.9 1049.2L1368.3 1051.3L1368.6 1053.3L1369.0 1055.0L1369.3 1056.8L1369.7 1058.7L1370.1 1060.7L1370.4 1062.7L1370.8 1064.7L1371.2 1066.5L1371.6 1068.4L1372.0 1070.4L1372.4 1072.2L1372.8 1073.8L1373.2 1075.6L1373.6 1077.4L1374.0 1079.2L1374.4 1081.3L1374.8 1083.8L1375.3 1086.0L1375.7 1087.9L1376.1 1089.3L1376.5 1090.9L1377.0 1092.9L1377.4 1095.0L1377.9 1097.2L1378.3 1099.5L1378.8 1101.9L1379.3 1103.9L1379.8 1105.7L1380.3 1107.6L1380.7 1109.3L1381.2 1110.8L1381.7 1112.8L1382.2 1114.7L1382.7 1116.5L1383.2 1118.2L1383.7 1120.0L1384.1 1121.8L1384.6 1123.9L1385.1 1126.1L1385.5 1127.9L1386.0 1129.5L1386.5 1131.3L1386.9 1133.3L1387.4 1135.2L1387.9 1136.7L1388.5 1138.1L1389.0 1139.3L1389.7 1141.1L1390.5 1143.0L1391.2 1145.3L1392.0 1147.6L1392.8 1149.5L1393.7 1151.2L1394.8 1152.7L1396.1 1154.2L1397.5 1155.5L1399.1 1156.7L1400.6 1157.8L1402.1 1158.6L1403.5 1158.8L1404.7 1158.2L1406.0 1157.1L1407.2 1155.6L1408.3 1154.2L1409.3 1153.0L1410.2 1151.6L1410.8 1150.2L1411.3 1148.6L1411.7 1146.8L1412.1 1144.9L1412.3 1142.7L1412.6 1140.9L1412.8 1139.2L1413.1 1137.1L1413.4 1134.6L1413.7 1132.0L1414.1 1129.7L1414.6 1127.8L1415.1 1126.1L1415.6 1124.3L1416.1 1122.4L1416.7 1120.4L1417.2 1118.1L1417.8 1116.1L1418.3 1114.4L1418.9 1112.8L1419.4 1110.9L1419.9 1108.9L1420.4 1106.9L1420.9 1105.2L1421.4 1103.6L1421.9 1101.6L1422.4 1099.2L1422.8 1096.8L1423.3 1094.8L1423.8 1093.0L1424.2 1091.1L1424.7 1089.2L1425.2 1087.1L1425.6 1085.2L1426.0 1083.4L1426.4 1081.7L1426.8 1079.9L1427.3 1077.8L1427.9 1075.8L1428.6 1074.3L1429.9 1072.6L1431.4 1071.0L1433.0 1070.0L1434.4 1070.0L1435.5 1070.8L1436.4 1072.0L1437.4 1073.6L1438.3 1076.0L1439.3 1078.5L1440.2 1080.2L1441.0 1081.4L1441.8 1083.0L1442.6 1085.0L1443.4 1086.6L1444.2 1087.9L1445.0 1089.0L1445.9 1089.6L1447.0 1089.4L1448.2 1088.8L1449.5 1087.9L1450.6 1086.7L1451.7 1085.1L1452.5 1083.5L1453.1 1081.9L1453.7 1080.2L1454.3 1078.2L1454.8 1076.0L1455.3 1073.9L1455.9 1072.2L1456.6 1070.5L1457.4 1068.9L1458.2 1067.3L1459.0 1065.5L1459.9 1063.5L1460.7 1061.4L1461.6 1059.8L1462.5 1058.4L1463.3 1056.9L1464.0 1055.4L1464.7 1053.7L1465.4 1051.9L1466.1 1050.1L1466.8 1048.4L1467.5 1046.8L1468.2 1045.0L1468.8 1043.1L1469.5 1041.0L1470.1 1038.8L1470.7 1037.2L1471.2 1035.9L1471.8 1034.4L1472.3 1032.7L1472.8 1031.1L1473.4 1029.5L1473.9 1027.4L1474.4 1025.1L1474.9 1023.0L1475.4 1021.3L1475.9 1019.9L1476.4 1018.2L1476.9 1016.1L1477.4 1014.0L1477.9 1012.2L1478.4 1010.4L1478.9 1008.5L1479.4 1006.5L1479.9 1004.5L1480.4 1002.5L1480.8 1000.3L1481.3 998.0L1481.7 995.9L1482.1 994.1L1482.5 992.4L1482.9 990.7L1483.2 988.8L1483.6 987.2L1483.9 985.6L1484.2 983.7L1484.5 981.6L1484.9 979.4L1485.2 977.5L1485.5 975.6L1485.8 973.5L1486.1 971.1L1486.3 969.0L1486.6 967.3L1486.9 965.9L1487.1 964.3L1487.4 962.3L1487.7 960.2L1487.9 958.3L1488.2 956.6L1488.4 954.9L1488.7 953.1L1488.9 950.9L1489.2 948.5L1489.4 946.4L1489.6 944.4L1489.9 942.7L1490.1 941.0L1490.3 939.0L1490.5 936.9L1490.7 934.6L1490.9 932.5L1491.1 930.6L1491.3 928.7L1491.5 926.7L1491.7 924.9L1492.0 923.1L1492.3 921.4L1492.7 919.1L1493.0 916.9L1493.4 914.9L1493.8 912.8L1494.3 910.6L1494.8 908.6L1495.4 906.8L1496.1 905.5L1497.3 904.6L1498.7 904.4L1500.0 904.5L1500.9 905.0L1501.7 906.0L1502.5 907.6L1503.2 909.5L1503.9 911.4L1504.4 913.2L1504.9 915.2L1505.3 917.3L1505.7 919.4L1506.1 921.6L1506.6 923.9L1507.1 925.6L1507.7 927.0L1508.5 928.7L1509.5 930.7L1510.4 932.2L1511.5 933.2L1512.5 933.7L1513.6 933.6L1514.9 932.9L1516.1 931.6L1517.3 929.8L1518.3 927.7L1519.0 925.7L1519.5 923.6L1519.9 921.6L1520.3 919.6L1520.7 917.6L1521.0 915.6L1521.4 913.5L1521.8 911.4L1522.2 909.5L1522.6 907.8L1523.1 906.0L1523.5 904.1L1524.0 902.1L1524.4 900.1L1524.9 898.2L1525.4 896.2L1525.9 894.2L1526.4 892.4L1527.0 890.7L1527.6 888.5L1528.3 886.2L1529.0 884.7L1529.7 883.6L1530.4 882.5L1531.2 881.1L1532.0 879.3L1532.8 877.3L1533.8 875.4L1534.9 873.7L1536.0 872.4L1537.2 871.1L1538.4 869.6L1539.6 868.1L1540.9 866.7L1542.2 865.4L1543.6 864.4L1545.0 863.7L1546.3 863.3L1547.8 863.7L1549.2 864.6L1550.7 866.0L1552.0 868.0L1553.1 870.4L1553.7 872.2L1554.2 873.8L1554.7 875.7L1555.0 877.9L1555.3 880.1L1555.6 882.2L1555.8 884.1L1556.1 886.1L1556.3 888.5L1556.6 891.1L1556.9 893.3L1557.2 894.9L1557.5 896.4L1557.8 898.2L1558.1 900.2L1558.3 902.2L1558.6 904.0L1558.9 905.8L1559.2 907.7L1559.5 909.5L1559.8 911.3L1560.1 913.4L1560.4 915.5L1560.8 917.5L1561.2 919.6L1561.6 921.9L1562.0 924.0L1562.4 925.7L1562.9 927.1L1563.3 928.7L1563.8 930.4L1564.2 932.3L1564.7 934.2L1565.2 936.3L1565.6 938.5L1566.1 940.8L1566.6 942.9L1567.1 944.7L1567.5 946.6L1568.0 948.3L1568.5 949.9L1569.1 951.8L1569.6 954.1L1570.1 956.1L1570.6 958.0L1571.1 960.2L1571.6 962.3L1572.1 964.1L1572.5 965.8L1573.0 967.6L1573.4 969.6L1573.8 971.6L1574.2 973.4L1574.6 975.4L1574.9 977.6L1575.3 979.5L1575.6 981.2L1575.9 983.0L1576.2 984.7L1576.6 986.3L1576.9 988.1L1577.2 990.3L1577.5 992.7L1577.9 995.1L1578.2 997.7L1578.5 999.9L1578.9 1001.8L1579.2 1003.2L1579.6 1004.4L1579.9 1005.9L1580.3 1007.9L1580.6 1010.1L1581.0 1012.1L1581.3 1013.9L1581.6 1015.7L1582.0 1017.8L1582.3 1019.9L1582.7 1021.6L1583.0 1023.0L1583.4 1024.9L1583.8 1027.0L1584.2 1029.3L1584.5 1031.5L1584.9 1033.8L1585.3 1036.0L1585.7 1037.8L1586.1 1039.4L1586.5 1041.3L1586.9 1043.3L1587.3 1045.2L1587.7 1047.1L1588.1 1048.9L1588.5 1050.8L1588.9 1052.6L1589.4 1054.2L1590.0 1055.6L1590.7 1056.9L1591.7 1058.1L1592.8 1059.3L1594.0 1060.7L1595.2 1062.2L1596.4 1063.3L1597.5 1064.3L1598.6 1065.4L1599.6 1066.8L1600.6 1068.6L1601.5 1070.5L1602.3 1072.1L1602.9 1073.5L1603.5 1075.2L1604.0 1077.0L1604.4 1078.8L1604.8 1080.6L1605.3 1082.6L1605.7 1084.8L1606.2 1087.3L1606.7 1089.5L1607.1 1091.5L1607.6 1093.1L1608.1 1094.8L1608.5 1096.9L1609.0 1099.1L1609.5 1101.2L1610.0 1103.2L1610.5 1105.3L1611.0 1107.3L1611.6 1109.5L1612.1 1111.4L1612.7 1112.9L1613.3 1114.1L1614.0 1115.4L1614.9 1117.0L1616.3 1118.6L1617.9 1119.3L1619.5 1119.4L1620.9 1119.1L1622.3 1118.5L1623.8 1117.1L1625.2 1115.0L1626.7 1113.1L1628.0 1111.8L1629.4 1110.9L1630.8 1109.9L1632.1 1108.7L1633.4 1107.6L1634.5 1106.6L1635.4 1105.5L1636.3 1103.6L1637.1 1101.5L1637.8 1099.8L1638.5 1098.2L1639.2 1096.3L1639.8 1094.4L1640.4 1093.0L1640.8 1091.4L1641.2 1089.5L1641.6 1087.3L1642.1 1085.2L1642.5 1083.4L1643.1 1082.0L1643.8 1080.9L1645.0 1079.3L1646.4 1077.8L1647.9 1076.4L1649.5 1075.5L1651.1 1075.0L1652.8 1074.7L1654.4 1074.4L1656.0 1073.7L1657.3 1072.6L1658.5 1071.2L1659.6 1069.6L1660.7 1068.2L1661.8 1067.0L1662.7 1066.2L1663.5 1065.2L1664.3 1063.5L1665.0 1061.6L1665.8 1060.1L1666.7 1059.0L1667.6 1057.5L1668.8 1055.2L1670.1 1053.1L1671.5 1051.8L1672.9 1051.1L1674.3 1050.6L1675.7 1050.6L1677.1 1051.6L1678.6 1053.0L1679.9 1054.0L1681.1 1054.7L1681.9 1055.8L1682.6 1057.5L1683.3 1059.3L1683.8 1060.7L1684.4 1062.0L1684.9 1063.6L1685.4 1065.9L1685.9 1068.3L1686.4 1070.1L1686.9 1071.8L1687.4 1073.6L1687.9 1075.3L1688.4 1077.2L1688.9 1079.1L1689.4 1081.1L1689.8 1083.0L1690.3 1085.2L1690.7 1087.3L1691.1 1089.3L1691.5 1091.1L1691.9 1092.8L1692.3 1094.5L1692.7 1096.5L1693.1 1099.1L1693.5 1101.7L1693.8 1103.8L1694.2 1105.6L1694.6 1107.3L1695.0 1109.2L1695.4 1111.2L1695.7 1113.1L1696.1 1114.9L1696.5 1116.5L1696.9 1118.2L1697.3 1120.2L1697.7 1122.4L1698.1 1124.3L1698.5 1126.0L1698.9 1128.0L1699.4 1130.4L1699.8 1132.8L1700.2 1134.9L1700.7 1136.8L1701.1 1138.6L1701.6 1140.3L1702.1 1141.8L1702.7 1143.2L1703.3 1144.9L1704.0 1146.9L1704.7 1148.7L1705.5 1150.5L1706.3 1152.3L1707.2 1154.0L1708.1 1155.3L1709.1 1156.4L1710.5 1157.3L1711.9 1157.7L1713.4 1157.9L1714.9 1157.9L1716.2 1157.5L1717.5 1156.7L1718.8 1155.9L1720.2 1155.1L1721.6 1154.4L1723.1 1153.7L1724.8 1152.8L1726.5 1151.6L1728.2 1150.5L1729.8 1149.5L1731.3 1148.7L1732.7 1147.6L1734.0 1146.5L1735.3 1145.1L1736.5 1143.1L1737.7 1140.9L1739.0 1139.3L1740.3 1138.3L1741.6 1137.2L1743.0 1135.7L1744.3 1134.0L1745.6 1132.4L1746.7 1131.0L1747.7 1129.4L1748.4 1127.8L1748.9 1125.8L1749.3 1123.7L1749.7 1121.5L1749.9 1119.4L1750.2 1117.6L1750.6 1115.9L1751.0 1114.0L1751.5 1112.2L1752.3 1110.2L1753.2 1108.5L1754.2 1106.8L1755.2 1105.4L1756.4 1104.0L1757.5 1102.7L1758.8 1101.4L1760.2 1100.3L1761.6 1099.2L1762.9 1098.1L1764.1 1096.9L1765.3 1095.4L1766.5 1093.9L1767.6 1092.2L1768.7 1090.5L1769.9 1088.9L1771.2 1087.7L1772.6 1086.7L1774.0 1085.7L1775.3 1084.3L1776.6 1082.4L1777.5 1080.9L1778.3 1079.6L1779.0 1078.4L1779.8 1077.0L1780.5 1075.2L1781.2 1073.4L1781.9 1071.9L1782.6 1070.5L1783.4 1068.9L1784.2 1067.2L1785.1 1065.8L1786.0 1064.5L1786.8 1062.8L1787.7 1060.7L1788.5 1058.7L1789.4 1057.0L1790.2 1055.3L1791.1 1053.5L1791.9 1051.7L1792.7 1050.0L1793.6 1048.4L1794.4 1047.0L1795.2 1045.5L1795.9 1043.7L1796.5 1042.0L1797.1 1040.2L1797.7 1038.5L1798.2 1036.9L1798.8 1035.2L1799.3 1033.2L1799.8 1031.5L1800.3 1029.8L1800.8 1028.0L1801.3 1025.7L1801.7 1023.3L1802.0 1021.4L1802.4 1019.9L1802.7 1018.5L1803.2 1016.9L1803.8 1015.0L1804.6 1012.9L1805.6 1011.2L1806.7 1009.8L1808.1 1008.5L1809.4 1007.1L1810.8 1005.8L1812.2 1004.6L1813.3 1003.6L1814.3 1002.4L1815.1 1000.7L1815.7 998.4L1816.2 996.2L1816.6 994.6L1816.9 993.1L1817.3 991.4L1817.7 989.5L1818.1 987.6L1818.6 985.5L1819.1 983.4L1819.6 981.8L1820.1 980.1L1820.5 978.0L1821.0 976.1L1821.5 974.3L1822.0 972.4L1822.5 970.3L1823.0 968.6L1823.6 966.9L1824.1 964.8L1824.9 962.6L1825.7 961.2L1826.6 960.5L1827.7 959.5L1828.8 958.0L1829.8 956.1L1830.8 954.3L1831.7 952.7L1832.4 951.4L1833.0 950.0L1833.6 948.6L1834.1 946.8L1834.6 944.7L1835.1 942.6L1835.6 940.5L1836.0 938.5L1836.5 936.6L1836.9 934.7L1837.2 933.0L1837.5 931.1L1837.8 928.8L1838.1 926.2L1838.4 924.1L1838.7 922.2L1839.1 920.4L1839.6 918.8L1840.3 917.6L1841.7 916.2L1843.3 915.5L1845.2 914.9L1846.9 914.4L1848.9 914.1L1851.0 914.1L1853.0 914.4L1854.8 914.2L1856.2 913.4L1857.6 912.2L1858.8 910.8L1860.0 909.2L1861.3 907.6L1862.5 906.1L1863.9 904.8L1865.4 903.8L1866.9 903.1L1868.2 902.2L1869.3 900.9L1869.9 899.5L1870.3 897.8L1870.6 896.1L1870.8 894.2L1871.1 892.1L1871.5 889.9L1872.2 888.0L1873.3 886.6L1874.6 885.5L1876.0 884.4L1877.5 883.6L1879.1 883.1L1880.6 882.5L1882.2 881.6L1883.8 880.6L1885.5 879.4L1887.1 878.2L1888.7 877.3L1890.3 876.2L1891.7 874.9L1893.1 873.5L1894.4 872.2L1895.8 871.1L1897.0 870.0L1898.3 868.7L1899.4 867.2L1900.3 865.8L1901.2 864.1L1902.0 862.1L1902.8 860.0L1903.5 858.2L1904.3 856.7L1905.0 855.1L1905.7 853.2L1906.4 851.4L1907.2 849.6L1907.9 847.8L1908.6 846.0L1909.3 844.1L1910.0 842.4L1910.7 840.7L1911.4 839.0L1912.2 837.8L1913.0 837.0L1913.8 835.8L1914.6 834.1L1915.4 832.2L1916.2 830.6L1917.1 829.2L1918.0 827.7L1919.0 826.0L1920.1 824.4L1921.3 822.6L1922.4 820.9L1923.6 819.3L1924.7 817.6L1925.7 815.8L1926.7 814.1L1927.7 812.9L1928.7 812.1L1929.6 810.9L1930.5 809.1L1931.5 807.0L1932.3 805.2L1933.2 803.5L1934.1 801.9L1934.9 800.5L1935.8 798.8L1936.6 797.1L1937.5 795.6L1938.3 793.9L1939.1 792.2L1939.9 790.4L1940.7 788.6L1941.5 786.7L1942.2 784.6L1943.0 782.5L1943.7 780.9L1944.4 779.5L1945.0 778.3L1945.6 777.2L1946.0 775.7L1946.4 773.4L1946.8 770.9L1947.2 768.7L1947.5 766.7L1947.9 764.6L1948.4 762.7L1948.9 761.3L1949.5 760.1L1950.2 758.5L1950.9 756.7L1951.7 754.7L1952.4 752.9L1953.2 751.1L1954.0 749.1L1954.7 747.2L1955.4 745.5L1956.2 743.9L1957.0 742.1L1957.8 740.5L1958.5 738.9L1959.2 737.2L1959.9 735.5L1960.5 733.7L1961.0 731.7L1961.4 729.6L1961.8 727.6L1962.1 725.7L1962.6 723.9L1963.4 722.1L1964.4 720.6L1965.6 719.3L1967.0 717.9L1968.4 716.3L1969.8 714.7L1971.0 713.2L1972.0 712.0L1972.7 710.8L1973.1 709.3L1973.5 707.4L1973.7 705.1L1973.9 702.8L1974.1 700.7L1974.3 698.9L1974.5 697.0L1974.9 695.3L1975.3 694.0L1975.8 692.5L1976.2 690.5L1976.7 688.3L1977.2 686.2L1977.7 684.0L1978.3 681.7L1978.8 679.5L1979.3 677.6L1979.8 675.8L1980.3 673.8L1980.8 671.8L1981.3 669.8L1981.8 667.9L1982.3 666.4L1982.9 664.6L1983.4 662.2L1984.0 660.0L1984.6 658.3L1985.3 656.9L1986.0 655.4L1986.8 653.9L1987.6 652.1L1988.4 650.1L1989.1 648.0L1989.8 646.2L1990.4 644.8L1990.8 643.3L1991.2 641.5L1991.5 639.3L1991.7 637.1L1991.9 635.3L1992.2 634.1L1992.5 632.7L1992.8 630.7L1993.3 628.7L1993.9 627.0L1994.7 625.7L1995.4 624.5L1996.3 623.4L1997.2 622.0L1998.1 620.3L1999.1 618.7L2000.3 617.0L2001.6 615.2L2002.9 613.3L2004.3 611.8L2005.6 610.6L2006.8 610.3L2007.8 611.0L2008.7 612.7L2009.5 615.0L2010.3 617.5L2011.1 619.3L2011.8 620.3L2012.6 620.8L2013.6 620.4L2014.7 619.4L2015.6 617.8L2016.4 616.1L2016.7 614.4L2016.8 612.2L2016.8 609.7L2016.7 607.4L2016.6 605.3L2016.7 603.3L2017.0 601.6L2017.6 600.8L2018.9 600.8L2020.5 601.6L2022.3 603.0L2024.2 604.9L2026.0 606.6L2029.0 606.6"/>
<use href="#p0" stroke="#0000FF" stroke-width="7.6" shape-rendering="geometricPrecision"/>
<path id="p1" stroke="#999999" d="M206.5 1011.5L209.5 1011.5L211.5 1011.7L213.4 1011.0L215.4 1010.9L217.3 1011.2L219.3 1011.0L221.2 1011.0L223.2 1011.1L225.1 1012.4L227.1 1013.3L229.0 1013.4L231.0 1012.9L233.0 1012.1L234.9 1011.5L236.9 1011.2L238.8 1012.3L240.8 1013.2L242.8 1013.5L244.7 1013.9L246.7 1014.5L248.7 1014.9L250.7 1015.1L252.6 1015.0L254.5 1014.2L256.4 1013.9L258.3 1014.6L260.2 1015.0L262.1 1014.7L264.0 1014.9L265.9 1015.0L267.9 1014.9L269.8 1014.9L271.7 1015.1L273.6 1015.9L275.6 1016.3L277.5 1016.1L279.4 1015.5L281.3 1015.4L283.2 1015.1L285.1 1015.2L287.1 1016.2L288.9 1016.9L290.8 1016.3L292.7 1016.4L294.6 1017.1L296.6 1017.5L298.6 1018.1L300.5 1018.2L302.5 1018.4L304.5 1018.4L306.5 1017.8L308.5 1017.3L310.5 1017.6L312.5 1017.4L314.5 1016.6L316.4 1016.0L318.4 1015.7L320.3 1015.5L322.3 1015.9L324.2 1016.2L326.1 1015.7L327.9 1015.5L329.8 1015.0L331.6 1015.0L333.4 1014.8L335.1 1015.0L337.2 1015.2L339.4 1015.4L341.6 1015.2L343.7 1015.2L345.8 1015.5L348.0 1016.0L350.0 1016.3L352.0 1016.1L353.9 1016.1L355.8 1016.2L357.5 1016.0L359.2 1015.5L360.6 1014.9L362.0 1014.4L364.1 1014.4L365.7 1014.2L367.3 1013.7L368.9 1013.1L370.4 1012.8L371.9 1013.0L373.4 1013.4L375.0 1014.4L377.0 1014.7L378.5 1015.2L380.1 1015.7L381.8 1016.0L383.7 1015.8L385.6 1016.0L387.7 1015.8L389.8 1016.2L391.9 1017.4L394.0 1017.8L396.2 1017.3L398.4 1016.9L400.6 1016.9L402.7 1016.8L404.6 1016.7L406.5 1016.9L408.4 1017.4L410.3 1017.8L412.3 1018.2L414.3 1018.4L416.3 1019.3L418.3 1019.9L420.3 1019.5L422.3 1019.1L424.4 1018.9L426.4 1018.6L428.4 1019.2L430.5 1020.3L432.5 1020.5L434.5 1020.5L436.5 1019.7L438.5 1020.1L440.5 1019.5L442.6 1018.8L444.6 1018.3L446.7 1021.5L448.8 1022.9L450.9 1022.5L452.9 1022.6L455.0 1020.4L457.0 1020.9L459.0 1021.5L461.0 1023.2L463.0 1020.0L464.9 1019.8L466.7 1021.6L468.5 1023.8L470.3 1024.5L472.3 1023.9L474.3 1023.8L476.2 1025.1L478.0 1023.9L479.8 1025.3L481.6 1027.4L483.4 1025.9L485.1 1025.0L486.9 1024.9L488.7 1023.2L490.5 1021.5L492.4 1022.8L494.4 1024.5L496.4 1023.8L498.4 1024.5L500.4 1024.6L502.4 1024.7L504.3 1026.5L506.2 1026.9L507.9 1026.8L509.4 1025.8L510.8 1025.4L513.1 1024.8L514.9 1023.9L516.5 1023.4L517.2 1024.5L517.7 1027.7L518.2 1029.6L518.5 1032.7L518.8 1035.1L519.0 1036.5L519.2 1037.8L519.4 1040.6L519.7 1043.7L520.0 1044.6L520.3 1045.5L520.8 1046.5L521.2 1044.3L521.6 1043.7L522.1 1041.1L522.6 1037.3L523.3 1035.5L524.0 1035.4L525.5 1036.8L527.7 1036.8L528.8 1034.7L530.1 1032.0L531.6 1030.2L533.2 1029.8L535.0 1028.2L536.9 1028.0L538.9 1028.0L541.0 1028.3L543.2 1028.0L545.4 1026.3L547.6 1025.4L549.8 1025.0L551.9 1025.8L554.1 1026.1L556.1 1026.8L558.1 1027.2L560.0 1026.0L561.9 1025.1L563.8 1025.7L565.7 1024.9L567.6 1023.4L569.5 1024.2L571.5 1023.5L573.4 1023.0L575.3 1022.9L577.2 1021.6L579.1 1021.8L581.0 1023.4L582.9 1023.8L584.8 1024.1L586.6 1022.9L588.5 1021.0L590.5 1022.9L592.5 1025.1L594.4 1024.5L596.4 1025.0L598.4 1023.6L600.3 1022.7L602.3 1024.8L604.2 1025.3L606.1 1024.4L608.0 1024.9L609.9 1026.7L611.8 1026.6L613.7 1025.7L615.5 1026.1L617.4 1025.8L619.2 1025.7L621.0 1026.4L622.8 1026.7L624.6 1027.9L626.3 1028.8L628.1 1029.8L629.8 1031.1L631.6 1033.3L633.4 1035.1L635.3 1035.1L637.2 1034.6L639.2 1035.8L640.9 1035.8L642.7 1035.9L644.6 1036.9L646.6 1037.2L648.5 1036.3L650.6 1035.7L652.6 1035.7L654.6 1034.3L656.7 1031.8L658.7 1030.4L660.7 1029.0L662.7 1029.5L664.6 1030.2L666.4 1029.6L668.2 1028.7L669.9 1029.5L671.5 1029.8L673.0 1030.0L675.0 1030.2L676.7 1030.0L678.3 1030.4L679.8 1032.7L681.3 1034.0L682.9 1034.6L684.6 1036.1L686.5 1038.7L688.1 1038.9L689.8 1039.0L691.5 1040.2L693.3 1040.6L695.1 1040.7L697.0 1039.9L699.0 1039.1L700.9 1037.9L703.0 1036.9L705.0 1037.2L707.1 1037.0L709.2 1034.7L711.3 1033.2L713.5 1032.7L715.2 1034.0L716.9 1034.2L718.7 1034.5L720.5 1034.0L722.3 1034.3L724.1 1032.9L726.0 1032.0L727.9 1031.8L729.8 1030.6L731.7 1030.1L733.6 1030.8L735.6 1031.2L737.5 1032.8L739.5 1033.5L741.5 1030.9L743.5 1029.2L745.4 1027.6L747.4 1027.4L749.4 1028.7L751.4 1029.0L753.4 1028.8L755.4 1028.1L757.4 1026.7L759.3 1026.8L761.2 1028.5L763.1 1028.4L765.1 1028.6L767.1 1028.8L769.1 1029.0L771.1 1029.1L773.1 1029.0L775.1 1028.3L777.1 1027.6L779.1 1027.6L781.1 1027.6L783.2 1027.6L785.2 1028.3L787.2 1028.8L789.2 1029.1L791.2 1029.1L793.1 1028.8L795.1 1028.5L797.0 1028.3L798.9 1028.1L800.8 1028.4L802.7 1028.1L804.5 1027.8L806.3 1028.3L808.1 1028.8L810.2 1028.5L812.3 1028.0L814.4 1027.4L816.5 1027.1L818.6 1027.0L820.8 1026.8L822.8 1026.5L824.9 1025.8L826.9 1025.2L828.9 1025.2L830.8 1025.7L832.6 1025.4L834.4 1025.2L836.1 1025.3L837.7 1025.3L839.2 1025.2L840.6 1025.3L841.9 1025.0L843.9 1024.1L845.5 1023.3L846.9 1022.8L848.4 1022.5L850.0 1021.8L851.8 1021.4L853.7 1021.1L855.7 1020.8L857.7 1020.8L859.7 1019.9L861.6 1018.8L863.3 1018.5L865.0 1017.6L866.7 1016.6L868.4 1016.2L870.0 1015.4L871.7 1014.2L873.2 1013.0L874.7 1011.8L876.2 1011.2L877.7 1010.3L879.1 1009.1L880.4 1007.4L881.6 1006.2L882.8 1004.9L883.8 1003.4L884.7 1002.0L885.5 1000.6L886.3 999.0L887.0 997.3L887.8 995.7L888.6 993.8L889.3 991.8L890.1 990.0L890.8 988.3L891.6 986.8L892.3 985.2L893.1 983.6L893.8 982.1L894.6 980.4L895.4 978.4L896.3 976.1L897.3 974.1L898.2 972.6L899.2 971.3L900.2 969.8L901.1 968.0L902.1 966.3L903.2 964.4L904.3 963.0L905.5 961.8L906.6 960.2L907.9 958.4L909.1 957.1L910.4 956.4L911.8 955.7L913.1 954.6L914.4 953.5L915.6 952.6L916.8 951.4L917.9 949.7L919.0 948.0L920.1 946.4L921.4 944.8L922.9 943.6L924.5 942.7L926.2 942.1L927.8 941.3L929.2 939.8L930.1 938.2L930.8 936.8L931.5 935.4L932.1 933.6L932.6 931.9L933.1 930.1L933.5 928.0L934.0 926.0L934.4 924.3L934.7 922.8L935.0 921.0L935.3 918.9L935.5 916.8L935.7 914.8L936.0 912.6L936.2 910.2L936.5 908.0L936.9 906.0L937.3 904.2L937.8 902.4L938.3 900.8L938.8 898.9L939.3 896.9L939.9 894.9L940.4 892.8L940.9 890.7L941.4 888.6L941.9 886.7L942.3 885.0L942.6 883.2L942.9 881.3L943.2 879.5L943.4 877.8L943.7 876.0L943.9 874.1L944.1 872.1L944.3 869.9L944.5 867.9L944.7 866.2L944.9 864.7L945.1 863.0L945.4 860.9L945.6 858.7L945.9 856.6L946.1 854.7L946.4 852.8L946.6 850.9L946.9 848.8L947.1 846.6L947.4 844.7L947.6 843.2L947.9 841.8L948.2 840.0L948.5 837.4L948.8 834.8L949.1 832.5L949.4 830.8L949.8 829.0L950.1 827.0L950.5 825.0L950.9 823.0L951.4 821.1L951.8 819.3L952.2 817.6L952.6 815.9L953.0 813.9L953.4 811.6L953.8 809.5L954.2 807.8L954.5 805.9L954.9 803.9L955.2 802.0L955.5 800.3L955.8 798.7L956.1 797.1L956.4 795.5L956.7 793.8L956.9 791.9L957.2 789.9L957.5 787.9L957.8 785.7L958.1 783.4L958.4 781.2L958.7 779.4L958.9 777.8L959.2 776.0L959.5 773.9L959.8 772.0L960.1 770.1L960.3 768.2L960.6 766.0L960.9 763.8L961.2 761.7L961.4 759.8L961.7 757.9L962.0 756.2L962.3 754.5L962.6 752.7L962.9 750.5L963.2 748.3L963.5 746.3L963.7 744.2L964.0 742.1L964.3 740.1L964.6 738.5L964.9 736.7L965.2 734.7L965.5 732.6L965.8 730.8L966.1 729.2L966.4 727.5L966.7 725.5L967.0 723.2L967.4 720.9L967.7 718.7L968.0 716.6L968.3 714.8L968.6 713.0L968.9 711.0L969.2 709.3L969.5 708.0L969.7 706.4L970.0 704.3L970.2 702.2L970.4 700.3L970.6 698.4L970.8 696.6L971.0 695.0L971.3 693.3L971.6 691.4L972.0 689.4L972.4 687.3L972.9 685.4L973.5 683.5L974.1 681.3L974.6 679.1L975.1 677.0L975.6 675.3L976.1 673.8L976.4 672.1L976.7 670.2L976.9 668.1L977.0 666.0L977.1 664.2L977.2 662.5L977.2 660.0L977.3 657.0L977.4 654.6L977.5 653.3L977.6 652.1L977.7 650.3L977.9 648.4L978.0 646.3L978.1 644.3L978.2 642.5L978.4 640.8L978.6 638.9L978.9 636.9L979.3 635.0L979.8 633.2L980.4 631.5L981.0 630.0L981.7 628.1L982.5 625.7L983.3 623.7L984.2 623.0L985.7 622.9L987.3 623.2L989.0 622.8L990.5 621.4L992.0 619.9L993.4 618.9L994.8 618.7L995.7 619.3L996.7 620.5L997.6 622.0L998.5 623.9L999.3 625.7L1000.1 627.5L1000.8 629.2L1001.5 631.1L1002.0 632.9L1002.5 634.9L1002.9 636.7L1003.3 638.2L1003.7 639.8L1004.0 641.7L1004.3 643.9L1004.6 646.2L1004.8 648.4L1005.1 650.6L1005.4 652.5L1005.6 654.0L1005.9 655.7L1006.1 657.8L1006.3 659.8L1006.5 661.9L1006.6 664.4L1006.8 666.7L1007.0 668.8L1007.2 671.0L1007.3 673.1L1007.5 674.7L1007.7 676.0L1007.9 677.6L1008.1 679.2L1008.3 680.7L1008.6 682.7L1008.9 684.8L1009.2 686.9L1009.5 688.8L1009.8 690.7L1010.1 692.4L1010.4 694.1L1010.7 695.9L1010.9 698.2L1011.2 700.5L1011.4 702.2L1011.6 703.9L1011.7 705.5L1011.9 707.3L1012.1 709.2L1012.2 711.0L1012.4 712.9L1012.5 714.8L1012.7 716.5L1012.8 718.4L1012.9 720.5L1013.1 722.9L1013.2 725.0L1013.4 726.9L1013.6 728.7L1013.7 730.5L1013.9 732.1L1014.1 734.0L1014.3 736.0L1014.5 738.1L1014.7 740.1L1014.9 742.3L1015.2 744.5L1015.4 746.8L1015.6 749.2L1015.9 751.3L1016.1 753.0L1016.3 754.4L1016.6 755.8L1016.8 757.3L1017.0 759.1L1017.3 761.1L1017.5 763.5L1017.8 766.1L1018.0 768.3L1018.2 770.1L1018.5 771.7L1018.7 773.5L1019.0 775.5L1019.2 777.7L1019.5 779.9L1019.7 782.4L1020.0 784.7L1020.2 786.7L1020.5 788.3L1020.7 789.8L1021.0 791.5L1021.3 793.5L1021.5 795.3L1021.8 796.7L1022.1 798.3L1022.4 800.1L1022.7 802.3L1023.0 804.6L1023.3 806.4L1023.6 808.0L1024.0 809.9L1024.3 812.2L1024.6 814.5L1025.0 816.3L1025.3 818.0L1025.7 819.8L1026.1 822.0L1026.6 824.0L1027.0 825.8L1027.5 827.5L1028.0 829.2L1028.4 831.3L1028.9 833.6L1029.4 835.8L1030.0 837.7L1030.5 839.0L1031.1 840.6L1031.7 842.5L1032.4 844.6L1033.0 846.3L1033.7 847.7L1034.5 849.3L1035.3 851.3L1036.3 853.2L1037.4 854.7L1038.6 856.1L1039.8 857.2L1041.1 857.7L1042.5 858.2L1044.0 858.3L1045.5 857.6L1046.9 856.4L1048.0 855.3L1049.0 854.1L1050.0 852.7L1050.8 851.1L1051.7 849.4L1052.4 847.9L1053.0 846.1L1053.6 844.1L1054.2 842.2L1054.8 840.5L1055.3 838.8L1056.0 837.1L1056.6 835.3L1057.3 833.4L1058.1 831.5L1058.9 829.9L1059.7 828.5L1060.5 827.1L1061.2 825.5L1061.9 823.6L1062.4 821.5L1062.7 819.8L1062.9 818.0L1063.0 816.2L1063.1 814.4L1063.1 812.4L1063.1 810.0L1063.1 807.6L1063.0 805.3L1063.0 803.1L1063.0 801.2L1063.1 799.5L1063.3 798.0L1063.5 796.7L1063.9 795.2L1064.3 793.4L1064.8 791.5L1065.4 789.5L1065.9 787.5L1066.5 785.6L1067.1 784.0L1067.6 782.8L1068.1 781.6L1068.5 779.7L1068.9 777.8L1069.3 775.8L1069.7 773.5L1070.1 771.1L1070.4 768.9L1070.8 767.1L1071.2 765.7L1071.6 764.1L1072.0 761.9L1072.4 759.5L1072.9 757.3L1073.4 755.3L1073.9 753.3L1074.4 751.7L1074.9 750.2L1075.4 748.3L1075.9 746.0L1076.4 743.8L1076.8 742.1L1077.2 740.4L1077.5 738.3L1077.8 735.8L1078.1 733.7L1078.6 732.1L1079.2 730.6L1080.1 729.4L1081.4 728.5L1083.1 728.1L1084.9 727.9L1086.7 727.6L1088.4 727.3L1089.9 727.6L1091.4 728.6L1092.9 730.2L1094.3 732.0L1095.7 733.7L1097.0 735.2L1098.1 736.6L1098.9 738.1L1099.6 739.7L1100.2 741.3L1100.7 743.1L1101.2 745.0L1101.6 746.9L1102.0 748.7L1102.4 750.4L1102.9 752.1L1103.3 753.5L1103.7 755.0L1104.1 756.9L1104.5 758.9L1104.9 760.8L1105.2 762.8L1105.6 765.1L1105.9 767.6L1106.3 770.0L1106.6 772.1L1107.0 774.1L1107.3 776.2L1107.7 778.0L1108.0 779.4L1108.3 780.9L1108.6 782.9L1108.9 784.6L1109.2 786.2L1109.5 787.8L1109.8 789.8L1110.1 792.0L1110.4 794.4L1110.7 796.7L1111.0 798.4L1111.3 799.8L1111.6 801.4L1111.9 803.3L1112.2 805.3L1112.5 807.5L1112.8 809.7L1113.2 811.7L1113.5 813.9L1113.9 816.3L1114.2 818.7L1114.6 820.7L1114.9 822.3L1115.3 823.9L1115.6 825.5L1116.0 827.3L1116.4 829.1L1116.7 831.0L1117.1 832.7L1117.4 834.6L1117.7 836.7L1118.1 838.7L1118.4 840.5L1118.7 842.5L1119.0 844.7L1119.4 846.8L1119.7 848.7L1120.0 850.8L1120.4 853.0L1120.7 855.1L1121.1 856.6L1121.4 857.9L1121.8 859.6L1122.2 861.9L1122.7 864.6L1123.2 866.8L1123.7 868.6L1124.2 870.3L1124.7 872.2L1125.3 874.5L1125.8 876.6L1126.4 878.3L1126.9 879.8L1127.5 881.5L1128.0 883.3L1128.6 885.3L1129.2 887.1L1129.8 888.9L1130.4 890.7L1131.1 892.3L1131.9 893.1L1133.6 893.6L1135.3 893.4L1136.4 893.0L1137.6 892.0L1138.7 890.4L1139.6 888.9L1140.1 888.0L1140.5 886.6L1140.8 884.8L1141.0 882.8L1141.2 880.8L1141.3 878.7L1141.5 876.5L1141.8 874.5L1142.1 872.4L1142.5 870.4L1143.1 868.2L1143.7 866.1L1144.4 864.0L1145.2 862.2L1145.9 860.7L1146.7 859.3L1147.5 857.8L1148.3 856.5L1149.3 854.9L1150.3 853.2L1151.4 851.5L1152.4 850.1L1153.3 848.6L1154.1 847.0L1154.5 845.5L1154.7 843.6L1154.7 841.2L1154.7 838.4L1154.7 835.8L1154.9 833.5L1155.3 831.3L1156.0 829.9L1157.4 829.7L1159.1 830.4L1161.0 831.2L1162.9 831.7L1164.7 831.9L1166.3 832.4L1168.0 833.4L1169.5 834.4L1171.0 835.6L1172.4 837.0L1173.7 838.6L1174.8 840.4L1175.9 842.4L1177.0 844.2L1178.2 845.5L1179.8 846.8L1181.5 848.2L1183.3 849.2L1184.9 849.1L1186.1 848.2L1187.2 846.8L1188.2 845.2L1189.4 843.7L1190.7 842.3L1192.2 841.1L1193.9 840.0L1195.7 839.3L1197.6 838.8L1199.5 838.1L1201.4 837.2L1203.3 836.4L1205.3 835.6L1207.3 835.1L1209.3 834.9L1211.2 834.8L1212.9 834.4L1214.7 833.5L1216.4 832.7L1218.0 832.3L1219.7 832.1L1221.4 832.1L1223.1 832.6L1224.9 833.7L1226.7 834.9L1228.4 835.7L1230.0 836.1L1231.6 836.6L1233.2 837.1L1234.7 837.5L1236.1 838.1L1237.4 839.1L1238.5 840.5L1239.6 842.2L1240.6 843.9L1241.7 845.6L1242.9 847.1L1244.2 848.2L1245.5 849.1L1246.9 850.2L1248.4 851.5L1250.0 852.4L1251.6 852.6L1253.3 852.2L1255.1 851.7L1257.0 851.4L1258.8 851.3L1260.7 851.3L1262.5 851.5L1264.5 852.0L1266.4 852.9L1268.3 853.5L1270.2 854.1L1272.1 854.7L1274.1 854.7L1275.8 854.0L1277.6 853.2L1279.3 853.0L1281.2 852.9L1283.0 852.4L1284.8 851.7L1286.7 851.5L1288.6 851.8L1290.5 851.8L1292.4 851.7L1294.4 851.6L1296.4 851.6L1298.4 851.6L1300.3 851.8L1302.3 852.1L1304.2 852.3L1306.0 852.0L1307.8 851.3L1309.6 850.5L1311.3 849.7L1313.0 848.9L1314.7 848.2L1316.3 847.6L1317.9 846.8L1319.5 845.8L1321.1 844.6L1322.6 843.4L1324.0 842.2L1325.5 841.0L1326.9 839.5L1328.3 837.7L1329.7 835.9L1331.1 834.2L1332.4 833.1L1333.7 832.2L1335.0 831.1L1336.2 829.8L1337.5 828.4L1338.8 827.3L1340.1 826.4L1341.4 825.3L1342.7 824.1L1344.4 822.5L1346.2 821.1L1348.0 820.0L1349.8 819.1L1351.6 818.4L1353.3 817.8L1355.1 817.5L1356.8 817.6L1358.5 818.6L1360.3 820.2L1362.0 821.9L1363.4 822.9L1364.9 823.5L1366.4 824.6L1367.8 826.2L1369.3 827.8L1370.7 829.2L1372.2 831.0L1373.6 832.7L1374.9 834.3L1376.2 835.6L1377.6 836.9L1378.9 838.1L1380.2 839.2L1381.4 840.7L1382.7 842.3L1383.9 843.9L1385.1 845.3L1386.1 846.8L1387.2 849.0L1388.1 851.2L1389.1 853.0L1390.0 854.2L1391.0 855.2L1391.9 856.5L1392.8 858.0L1393.8 859.3L1394.8 860.5L1396.1 862.2L1397.4 864.0L1398.7 865.5L1400.0 867.0L1401.3 868.1L1402.5 868.5L1403.9 868.2L1405.4 867.1L1406.7 865.4L1408.1 863.4L1409.3 861.5L1410.0 860.1L1410.7 858.4L1411.3 856.7L1411.9 855.0L1412.5 853.3L1413.0 851.7L1413.5 849.9L1414.0 847.9L1414.5 845.9L1415.0 844.0L1415.5 841.8L1416.0 839.5L1416.6 837.6L1417.1 836.0L1417.7 833.8L1418.2 831.4L1418.8 829.4L1419.3 827.7L1419.9 826.1L1420.4 824.4L1420.9 822.6L1421.3 820.6L1421.8 818.8L1422.2 817.1L1422.7 815.3L1423.0 813.2L1423.4 811.3L1423.8 809.3L1424.1 807.0L1424.5 804.6L1424.8 802.4L1425.3 800.8L1425.7 799.7L1426.2 798.2L1426.8 796.6L1427.3 794.7L1427.9 792.7L1428.6 790.8L1429.5 789.4L1430.8 788.4L1432.3 787.5L1433.8 786.6L1435.3 786.2L1436.5 786.7L1437.7 788.1L1438.8 789.9L1439.9 791.7L1441.1 793.4L1442.4 795.2L1443.8 796.9L1445.2 798.2L1446.6 798.7L1447.9 799.0L1449.1 799.1L1450.2 798.5L1451.3 796.9L1452.3 794.8L1453.4 792.6L1454.6 790.6L1455.8 788.9L1457.1 787.6L1458.4 786.5L1459.8 785.3L1461.1 783.8L1462.4 781.9L1463.4 780.5L1464.3 779.2L1465.3 777.4L1466.2 775.5L1467.2 773.9L1468.2 772.8L1469.1 771.7L1470.1 770.3L1471.0 768.5L1472.0 766.8L1473.0 765.2L1474.0 763.5L1475.0 761.7L1476.1 760.2L1477.1 759.0L1478.1 757.7L1479.1 756.3L1480.0 754.8L1480.9 753.2L1481.7 751.2L1482.5 749.3L1483.2 747.9L1483.8 746.5L1484.4 744.8L1485.0 743.1L1485.5 741.3L1486.0 739.6L1486.5 737.7L1486.9 735.8L1487.3 733.8L1487.6 731.8L1488.0 730.1L1488.3 728.4L1488.6 726.5L1488.9 724.4L1489.2 722.3L1489.4 720.1L1489.7 717.8L1490.0 715.5L1490.3 713.5L1490.6 711.8L1490.9 710.2L1491.1 708.7L1491.4 707.2L1491.7 705.6L1491.9 703.8L1492.2 701.7L1492.5 699.7L1492.7 697.8L1493.0 695.7L1493.3 693.6L1493.6 691.7L1493.9 689.8L1494.2 687.8L1494.5 685.6L1494.8 683.4L1495.1 681.1L1495.4 678.9L1495.7 676.9L1496.1 675.0L1496.6 673.3L1497.1 671.8L1498.0 670.2L1498.9 668.9L1499.9 667.6L1501.0 666.9L1502.1 667.2L1503.3 668.4L1504.5 670.1L1505.8 671.7L1507.4 673.4L1509.0 674.7L1510.6 674.9L1511.8 674.3L1513.0 673.1L1514.2 671.8L1515.4 670.5L1516.5 668.9L1517.4 666.8L1518.0 665.1L1518.5 663.7L1518.9 662.0L1519.2 660.0L1519.5 658.1L1519.8 656.4L1520.0 654.7L1520.3 652.9L1520.6 651.0L1520.9 649.3L1521.2 647.3L1521.6 645.3L1522.0 643.5L1522.3 641.9L1522.7 640.2L1523.1 638.0L1523.5 635.5L1523.9 633.1L1524.3 631.1L1524.8 629.3L1525.2 627.6L1525.6 625.9L1526.1 624.1L1526.6 622.2L1527.1 620.2L1527.6 618.1L1528.1 616.0L1528.6 614.2L1529.1 612.9L1529.7 611.3L1530.2 609.6L1530.8 607.8L1531.3 605.9L1531.9 603.9L1532.5 601.8L1533.2 600.2L1533.8 598.7L1534.5 597.1L1535.2 595.6L1535.9 594.3L1536.6 592.6L1537.3 590.5L1537.9 588.5L1538.6 586.7L1539.2 585.0L1539.9 583.4L1540.5 581.8L1541.0 580.1L1541.6 578.6L1542.3 577.2L1542.9 575.6L1543.6 573.7L1544.4 571.7L1545.4 569.6L1546.6 567.7L1547.7 566.0L1548.9 564.8L1550.1 564.1L1551.2 563.9L1552.4 564.4L1553.6 565.5L1554.8 567.3L1555.9 569.7L1556.9 572.0L1557.5 573.1L1558.0 574.3L1558.4 576.1L1558.9 578.5L1559.2 581.0L1559.6 583.2L1559.9 585.2L1560.3 587.0L1560.6 588.9L1561.0 590.8L1561.4 592.7L1561.8 594.6L1562.2 596.5L1562.7 598.4L1563.2 600.4L1563.6 602.6L1564.1 604.7L1564.6 606.5L1565.1 608.3L1565.6 610.4L1566.1 612.5L1566.6 614.4L1567.1 616.1L1567.6 618.2L1568.1 620.3L1568.5 622.4L1568.9 624.5L1569.3 626.5L1569.7 628.0L1570.1 629.4L1570.5 631.1L1570.9 633.2L1571.3 635.3L1571.7 637.1L1572.1 638.6L1572.5 640.6L1572.8 642.8L1573.2 645.0L1573.6 646.9L1573.9 648.8L1574.3 650.8L1574.7 652.9L1575.0 654.9L1575.3 656.7L1575.7 658.5L1576.0 660.3L1576.3 662.1L1576.7 664.0L1577.0 666.1L1577.3 668.4L1577.6 670.4L1577.9 672.1L1578.2 673.8L1578.6 675.6L1578.9 677.5L1579.2 679.6L1579.5 681.6L1579.8 683.4L1580.1 685.0L1580.4 686.7L1580.7 688.6L1581.0 690.9L1581.3 693.0L1581.6 694.8L1581.8 696.7L1582.1 698.9L1582.4 701.1L1582.7 703.0L1583.0 704.8L1583.4 706.7L1583.7 708.6L1584.0 710.4L1584.3 712.4L1584.7 714.3L1585.0 716.2L1585.4 718.1L1585.7 720.2L1586.1 722.2L1586.4 723.9L1586.8 725.8L1587.2 727.9L1587.6 730.3L1587.9 732.5L1588.3 734.5L1588.7 736.3L1589.0 737.8L1589.4 739.5L1589.8 741.3L1590.2 743.4L1590.6 745.6L1591.0 747.7L1591.4 749.7L1591.8 751.9L1592.2 754.1L1592.6 755.9L1593.1 757.6L1593.5 759.4L1593.9 761.1L1594.3 762.8L1594.7 764.4L1595.2 766.2L1595.6 768.1L1596.1 770.1L1596.5 772.1L1597.0 774.2L1597.5 776.1L1597.9 777.9L1598.4 779.7L1598.9 781.4L1599.4 783.2L1599.9 785.1L1600.4 787.3L1600.9 789.6L1601.4 791.9L1601.9 793.8L1602.4 795.6L1602.9 797.2L1603.4 798.8L1603.9 800.9L1604.4 803.0L1604.9 804.8L1605.4 806.4L1605.9 808.1L1606.5 809.9L1607.0 811.6L1607.5 813.1L1608.1 814.5L1608.7 816.2L1609.4 818.2L1610.1 820.5L1610.7 822.6L1611.4 824.4L1612.1 825.8L1612.8 827.4L1613.5 829.1L1614.2 830.7L1614.9 832.1L1615.7 834.1L1616.4 836.1L1617.1 837.6L1617.9 838.7L1618.7 839.8L1619.6 841.1L1620.7 842.0L1622.1 842.9L1623.6 843.5L1625.2 844.1L1626.9 844.8L1628.6 845.8L1630.3 846.9L1631.9 847.6L1633.5 848.1L1635.2 848.7L1636.8 849.4L1638.4 849.9L1640.0 850.2L1641.6 850.6L1643.2 851.3L1644.8 852.3L1646.4 853.4L1648.0 854.4L1649.7 855.2L1651.3 856.2L1652.9 857.2L1654.6 857.9L1656.3 858.2L1658.0 858.4L1659.6 858.9L1661.2 859.8L1662.9 861.2L1664.5 862.6L1666.1 863.6L1667.7 864.3L1669.3 865.0L1670.9 865.7L1672.6 866.0L1674.4 866.0L1676.2 866.3L1677.9 866.8L1679.6 867.1L1681.1 867.0L1682.6 866.0L1684.0 864.8L1685.4 863.9L1686.9 863.1L1688.3 862.3L1689.8 861.7L1691.4 861.1L1692.9 860.5L1694.4 859.8L1696.0 859.4L1697.5 859.7L1699.1 860.5L1700.7 861.6L1702.3 862.6L1704.0 863.4L1705.6 863.6L1707.5 863.2L1709.5 862.7L1711.4 862.2L1713.4 861.6L1715.3 861.0L1716.9 860.3L1718.6 859.2L1720.2 858.3L1721.8 857.5L1723.3 856.5L1724.9 855.5L1726.3 854.6L1727.7 853.2L1729.1 851.7L1730.5 850.8L1731.9 850.1L1733.2 849.2L1734.6 848.0L1736.0 846.6L1737.4 845.1L1738.7 843.6L1740.1 842.4L1741.4 841.2L1742.8 840.0L1744.2 838.6L1745.5 837.2L1746.8 835.6L1748.1 833.9L1749.4 832.5L1750.7 831.2L1752.0 829.7L1753.3 828.0L1754.6 826.1L1755.8 824.4L1757.0 822.9L1758.1 821.5L1759.2 820.0L1760.3 818.7L1761.4 817.5L1762.4 816.1L1763.5 814.5L1764.5 812.9L1765.5 811.1L1766.7 809.1L1767.8 807.5L1768.9 806.4L1770.0 805.1L1771.1 803.2L1772.1 801.1L1773.2 798.9L1774.2 797.2L1775.1 795.5L1776.0 794.0L1776.9 792.4L1777.8 790.9L1778.8 789.7L1779.8 788.5L1780.9 786.9L1782.2 785.0L1783.5 783.1L1785.0 781.4L1786.4 780.1L1787.9 779.1L1789.3 778.0L1790.6 776.5L1791.8 775.0L1792.9 773.4L1793.9 771.9L1795.0 770.8L1796.0 769.7L1797.1 768.4L1798.3 767.0L1799.6 765.6L1801.0 764.3L1802.5 763.3L1803.9 762.4L1805.4 761.0L1806.7 759.2L1808.0 757.0L1809.1 755.0L1810.1 753.2L1811.1 751.6L1812.1 750.3L1813.0 749.1L1813.9 747.5L1814.8 745.5L1815.7 743.3L1816.5 741.4L1817.3 739.4L1818.0 737.5L1818.8 735.8L1819.6 734.3L1820.3 732.7L1821.1 730.8L1821.8 728.9L1822.6 727.1L1823.4 725.6L1824.3 723.9L1825.3 722.2L1826.4 720.6L1827.4 719.3L1828.4 718.1L1829.4 716.7L1830.3 714.9L1831.1 712.6L1831.8 710.4L1832.4 708.6L1832.9 707.5L1833.4 706.2L1833.9 704.2L1834.4 701.8L1834.9 699.8L1835.4 698.2L1835.9 696.7L1836.4 695.1L1836.9 693.2L1837.3 691.1L1837.7 688.9L1838.2 686.7L1838.7 684.9L1839.3 683.5L1840.0 682.3L1840.8 681.2L1842.3 680.4L1843.9 680.2L1845.7 680.0L1847.5 679.5L1849.2 678.9L1851.0 678.6L1852.8 678.5L1854.6 678.0L1856.2 676.9L1857.4 675.6L1858.6 674.1L1859.7 672.7L1860.8 671.5L1861.8 670.1L1862.8 668.7L1863.9 667.4L1865.0 666.0L1866.1 664.1L1867.1 662.0L1868.2 660.1L1869.3 658.3L1870.5 656.5L1871.7 654.8L1873.0 653.3L1874.3 651.8L1875.8 650.6L1877.2 649.8L1878.7 649.2L1880.0 648.5L1881.3 647.4L1882.6 645.8L1883.8 644.1L1885.1 642.7L1886.2 641.7L1887.2 640.8L1888.1 639.7L1888.8 637.9L1889.2 635.5L1889.6 632.9L1890.1 630.9L1891.0 629.6L1892.3 628.9L1893.9 628.3L1895.7 627.8L1897.5 627.2L1899.2 626.7L1900.4 626.1L1901.7 625.0L1902.8 623.5L1904.0 621.8L1905.1 620.1L1906.2 618.5L1907.3 616.9L1908.3 615.1L1909.2 613.2L1910.1 611.2L1911.0 609.1L1911.8 607.1L1912.6 606.0L1913.4 605.3L1914.2 604.1L1915.1 602.3L1916.0 600.5L1917.0 598.9L1918.1 597.3L1919.1 595.7L1920.1 593.7L1921.1 591.7L1922.0 590.3L1922.9 589.4L1923.9 588.1L1924.7 586.3L1925.6 584.4L1926.5 582.7L1927.6 581.5L1928.9 580.8L1930.3 580.4L1931.9 579.7L1933.4 578.5L1935.0 577.2L1936.6 576.4L1938.4 575.7L1940.1 574.9L1941.7 573.7L1943.1 572.2L1944.0 570.7L1944.8 569.2L1945.5 567.4L1946.1 565.3L1946.6 563.1L1947.3 561.0L1948.0 558.8L1948.9 556.8L1949.9 555.1L1951.0 553.6L1952.1 552.2L1953.3 551.0L1954.5 549.9L1955.8 548.8L1957.1 547.5L1958.5 546.6L1960.0 546.0L1961.6 545.2L1963.3 544.4L1965.0 543.8L1966.7 543.3L1968.4 542.6L1970.1 541.9L1971.8 541.2L1973.6 540.5L1975.3 539.7L1977.0 538.9L1978.7 538.0L1980.3 537.0L1981.7 535.8L1983.0 534.1L1984.2 532.2L1985.2 530.5L1986.3 528.8L1987.3 527.3L1988.3 526.0L1989.4 524.8L1990.8 523.2L1992.2 521.8L1993.6 520.6L1995.0 519.5L1996.2 518.1L1997.2 516.3L1998.1 514.8L1999.0 513.8L2000.0 513.1L2001.4 513.5L2002.8 515.2L2004.4 517.3L2005.8 518.2L2007.2 517.4L2008.5 516.3L2009.7 516.1L2010.5 516.8L2011.1 518.1L2011.7 519.9L2012.2 522.0L2012.9 524.1L2013.6 525.6L2014.7 527.0L2016.0 528.3L2017.4 529.2L2018.9 529.1L2020.6 528.3L2022.4 527.2L2024.2 526.0L2026.0 524.9L2029.0 524.9"/>
<use href="#p1" stroke="#999999" stroke-width="7.6" shape-rendering="geometricPrecision"/>
<path id="p2" stroke="#009E73" d="M206.5 764.5L209.5 764.5L211.5 763.7L213.4 763.8L215.3 764.4L217.3 764.9L219.2 765.5L221.1 765.4L223.1 765.4L225.0 765.3L226.9 765.8L228.9 766.2L230.8 766.4L232.7 766.5L234.7 766.3L236.6 766.4L238.6 766.7L240.6 766.4L242.6 766.0L244.6 766.1L246.6 766.4L248.6 767.1L250.7 767.4L252.6 767.7L254.5 768.1L256.4 768.5L258.3 769.3L260.3 769.0L262.3 768.2L264.2 767.9L266.3 767.9L268.3 768.7L270.3 769.5L272.3 769.7L274.4 769.6L276.4 769.2L278.4 769.3L280.4 769.7L282.4 769.5L284.4 769.4L286.4 769.7L288.4 770.6L290.3 770.9L292.2 770.4L294.1 770.0L296.0 770.1L297.8 770.7L299.6 770.8L301.4 770.3L303.5 769.5L305.5 769.5L307.5 769.3L309.5 769.2L311.5 769.2L313.5 769.0L315.4 768.7L317.3 768.7L319.2 768.2L321.1 767.9L323.0 766.9L324.8 766.3L326.6 766.6L328.3 766.3L330.1 765.9L331.8 765.2L333.5 764.4L335.1 763.5L337.3 763.0L339.5 763.6L341.6 764.5L343.6 765.2L345.6 765.6L347.5 765.6L349.5 765.9L351.3 765.8L353.2 765.5L355.0 765.1L357.1 765.4L359.2 765.4L361.3 765.0L363.3 764.6L365.2 764.5L367.1 764.6L368.9 764.3L370.8 764.5L372.5 765.3L374.1 765.6L375.9 766.5L378.0 767.5L379.5 768.5L381.1 769.0L382.8 768.2L384.6 768.1L386.4 768.0L388.4 767.9L390.3 767.9L392.4 768.2L394.4 768.7L396.5 768.4L398.6 767.8L400.6 767.6L402.7 767.8L404.5 768.9L406.4 769.0L408.3 769.1L410.1 770.3L412.0 771.1L414.0 771.3L415.9 771.3L417.9 771.2L419.8 770.9L421.8 770.5L423.8 771.1L425.9 771.5L428.0 771.5L430.1 772.4L432.2 771.7L434.3 771.7L436.5 770.8L438.3 770.5L440.1 772.2L442.0 773.5L443.9 774.1L445.9 776.0L447.9 774.4L449.9 771.3L452.0 772.1L454.0 773.8L456.1 774.1L458.2 774.5L460.3 774.0L462.4 775.5L464.5 774.2L466.6 773.8L468.6 773.4L470.7 771.4L472.7 771.7L474.7 773.1L476.6 771.9L478.5 771.0L480.4 771.5L482.2 770.0L483.9 771.0L485.6 773.6L487.2 773.3L489.5 775.4L491.8 777.3L494.1 776.5L496.3 775.2L498.4 775.2L500.5 775.0L502.5 777.7L504.4 778.1L506.2 775.4L507.9 774.7L509.4 773.4L510.8 773.4L512.7 773.3L514.3 774.0L515.7 776.0L517.0 776.6L517.9 779.0L518.6 780.6L519.1 782.2L519.6 785.5L520.0 787.7L520.5 789.1L521.0 790.1L521.6 789.8L522.2 788.4L522.9 784.1L523.6 778.6L524.5 776.3L525.8 776.8L527.4 777.3L529.4 778.1L530.6 777.7L532.0 777.9L533.6 778.9L535.3 778.1L537.1 779.5L539.0 779.5L541.0 779.7L543.1 779.3L545.3 779.3L547.5 780.6L549.6 780.3L551.8 779.1L554.0 779.0L556.1 777.6L558.1 774.9L560.0 773.1L562.0 771.7L563.9 771.7L565.9 771.8L567.9 772.4L569.9 774.7L571.9 776.4L573.9 775.9L576.0 775.4L578.0 774.0L580.0 773.2L582.0 773.3L584.0 775.2L586.0 777.4L588.0 778.2L590.0 777.1L591.9 774.5L593.9 773.2L595.8 773.1L597.8 775.0L599.7 775.8L601.7 775.6L603.6 775.8L605.6 775.0L607.5 776.6L609.4 776.6L611.3 778.0L613.2 780.5L615.0 781.3L616.9 780.7L618.7 782.2L620.5 782.5L622.3 781.3L624.4 780.4L626.5 780.3L628.6 781.1L630.8 779.3L632.9 778.6L635.0 779.9L637.0 780.5L639.0 781.1L640.7 783.0L642.3 780.6L643.8 778.3L645.0 778.5L646.8 778.2L648.1 775.9L649.3 775.0L650.4 776.8L651.4 779.5L653.0 781.4L654.2 782.0L655.6 782.0L657.1 781.7L658.9 783.1L660.8 782.4L662.7 782.5L664.8 783.6L666.9 784.7L668.9 784.4L671.0 785.3L673.0 785.1L674.8 783.8L676.6 783.7L678.4 784.1L680.3 783.7L682.1 783.7L684.0 783.3L685.9 783.9L687.8 782.4L689.8 781.6L691.8 782.3L693.8 782.3L695.8 781.1L697.9 780.8L700.0 782.5L701.8 783.4L703.5 782.7L705.4 783.7L707.2 782.7L709.1 783.6L711.0 783.2L712.9 783.2L714.8 784.1L716.8 784.7L718.7 785.0L720.7 784.4L722.7 783.3L724.7 781.6L726.7 781.3L728.7 781.2L730.7 781.1L732.7 781.8L734.6 781.8L736.6 782.4L738.6 780.7L740.5 779.4L742.4 780.4L744.4 781.8L746.3 784.0L748.2 785.4L750.1 785.2L752.0 784.0L754.0 781.7L755.9 780.4L757.8 780.1L759.7 780.0L761.7 779.7L763.6 780.2L765.5 781.0L767.4 781.5L769.4 781.5L771.3 780.8L773.3 780.7L775.2 781.0L777.2 780.8L779.1 779.9L781.1 779.2L783.1 779.5L785.1 780.0L787.1 780.5L789.1 780.9L791.2 780.8L793.3 781.1L795.4 780.9L797.5 780.0L799.6 779.8L801.6 780.0L803.7 780.4L805.8 781.2L807.8 781.3L809.9 780.7L811.9 780.6L813.9 780.3L815.8 780.1L817.8 780.5L819.6 780.9L821.5 781.1L823.3 780.8L825.0 780.1L827.2 779.7L829.4 779.3L831.5 779.3L833.6 779.5L835.7 779.2L837.7 778.4L839.7 778.3L841.6 777.7L843.4 777.6L845.2 777.7L846.9 777.2L848.5 776.7L850.0 776.3L852.2 775.9L854.2 776.5L856.0 776.9L857.8 776.4L859.7 775.3L861.3 774.6L863.0 774.4L864.6 774.0L866.3 773.1L868.0 772.5L869.6 772.2L871.2 772.1L872.9 771.6L874.6 770.5L876.3 769.4L877.9 768.4L879.4 767.1L880.9 766.0L882.2 764.9L883.4 763.7L884.5 762.5L885.6 761.3L886.6 759.8L887.6 758.0L888.6 756.1L889.5 754.0L890.3 752.3L891.1 751.1L891.8 749.8L892.6 748.1L893.4 746.3L894.4 744.8L895.4 743.5L896.6 742.0L897.7 740.1L898.9 738.0L900.2 736.1L901.5 734.5L902.8 733.3L904.1 732.3L906.0 731.4L908.0 731.2L909.9 731.5L911.8 731.2L913.1 730.2L914.4 728.9L915.7 727.7L916.9 726.6L918.2 725.7L919.5 724.5L921.0 723.1L922.7 721.7L924.3 720.6L925.8 719.6L927.2 718.7L928.1 717.9L929.0 716.7L929.8 715.2L930.6 713.7L931.4 711.8L932.1 709.8L932.7 707.9L933.4 706.0L934.0 703.8L934.6 701.9L935.1 700.2L935.6 698.4L936.1 696.4L936.5 694.8L937.0 693.1L937.4 691.1L937.8 689.0L938.3 686.9L938.8 684.9L939.3 683.3L939.8 681.7L940.4 679.8L940.9 678.1L941.5 676.3L942.0 674.3L942.6 672.3L943.1 670.5L943.7 668.9L944.1 667.4L944.6 666.0L945.0 664.4L945.4 662.7L945.8 660.5L946.2 658.2L946.5 656.1L946.8 654.2L947.1 652.5L947.5 650.7L947.8 648.9L948.1 646.9L948.5 644.8L949.0 642.8L949.4 641.2L949.9 639.4L950.4 637.0L950.8 634.4L951.3 632.1L951.8 630.1L952.3 628.2L952.7 626.5L953.1 624.8L953.5 623.2L953.9 621.7L954.3 619.9L954.7 617.6L955.1 615.3L955.5 613.1L955.9 611.0L956.3 609.1L956.7 607.5L957.1 605.8L957.5 604.1L957.8 602.2L958.2 600.4L958.5 598.5L958.9 596.4L959.2 594.3L959.6 592.3L959.9 590.5L960.3 588.5L960.6 586.3L961.0 584.5L961.3 583.1L961.7 581.7L962.0 580.0L962.4 577.6L962.8 575.3L963.2 573.2L963.6 571.3L963.9 569.4L964.3 567.3L964.7 565.4L965.1 563.7L965.4 562.0L965.8 560.2L966.1 558.5L966.5 556.5L966.8 554.2L967.1 551.8L967.4 549.5L967.7 547.5L968.1 545.8L968.4 544.0L968.7 541.9L969.0 539.9L969.4 538.0L969.7 536.1L970.1 534.1L970.5 532.1L970.8 530.0L971.2 527.7L971.6 525.9L972.0 524.3L972.4 522.5L972.8 520.7L973.2 519.0L973.6 517.4L974.0 515.6L974.4 513.6L974.8 511.5L975.2 509.3L975.6 507.1L976.0 504.9L976.4 502.8L976.8 501.0L977.1 499.4L977.4 497.7L977.7 495.4L978.0 493.7L978.2 492.3L978.5 490.5L979.0 488.3L979.6 486.1L980.4 484.3L981.2 482.9L982.2 481.6L983.2 480.4L984.5 479.6L986.0 478.7L987.6 477.6L989.0 476.6L990.6 475.2L992.2 473.8L993.8 473.2L995.1 473.8L996.4 475.3L997.8 477.3L999.2 479.2L1000.4 481.0L1001.5 482.7L1002.2 484.1L1002.8 485.8L1003.3 487.3L1003.7 488.8L1004.0 490.3L1004.4 492.1L1004.7 493.8L1005.0 495.6L1005.4 497.6L1005.7 499.4L1006.0 501.2L1006.2 503.2L1006.5 505.4L1006.7 507.6L1007.0 509.7L1007.2 511.2L1007.4 512.7L1007.6 514.5L1007.9 516.6L1008.1 518.6L1008.3 520.5L1008.6 522.3L1008.8 524.2L1009.0 526.0L1009.3 527.9L1009.6 530.1L1009.8 532.5L1010.1 534.7L1010.3 536.5L1010.6 538.5L1010.8 540.6L1011.1 542.9L1011.4 545.0L1011.6 546.9L1011.9 548.8L1012.2 550.9L1012.5 552.7L1012.7 554.2L1013.0 555.6L1013.3 557.2L1013.5 559.1L1013.8 561.1L1014.1 563.2L1014.4 565.3L1014.7 567.4L1015.0 569.5L1015.2 571.6L1015.5 573.4L1015.8 575.2L1016.1 577.3L1016.4 579.7L1016.7 581.8L1017.0 583.4L1017.3 584.8L1017.6 586.3L1017.9 588.1L1018.2 590.4L1018.6 592.6L1018.9 594.3L1019.3 596.3L1019.7 598.4L1020.1 600.3L1020.5 602.5L1020.9 604.7L1021.4 606.8L1021.8 609.0L1022.2 610.9L1022.7 612.4L1023.2 613.8L1023.7 615.5L1024.2 617.3L1024.7 619.2L1025.3 621.5L1025.9 623.2L1026.6 624.7L1027.2 626.6L1027.9 628.7L1028.6 630.4L1029.3 631.9L1030.0 633.7L1030.8 635.5L1031.5 637.0L1032.4 638.6L1033.3 640.3L1034.3 642.4L1035.3 644.3L1036.3 645.9L1037.3 646.8L1038.8 647.2L1040.4 647.4L1042.1 647.4L1043.4 647.0L1044.8 646.1L1046.1 645.2L1047.5 644.1L1048.8 642.5L1050.0 640.8L1051.2 639.1L1052.3 637.6L1053.5 636.0L1054.6 634.2L1055.6 632.5L1056.6 631.0L1057.5 629.6L1058.4 628.3L1059.2 626.7L1060.0 624.9L1060.8 623.0L1061.4 621.5L1062.0 619.8L1062.4 618.0L1062.6 616.1L1062.8 614.1L1062.9 612.2L1063.0 610.0L1063.1 607.7L1063.2 605.6L1063.3 603.6L1063.6 601.8L1063.9 600.2L1064.4 598.5L1065.0 596.6L1065.6 594.8L1066.3 593.4L1067.1 592.1L1067.8 590.4L1068.5 588.4L1069.1 586.8L1069.7 585.7L1070.2 584.2L1070.8 582.3L1071.3 580.1L1071.8 578.0L1072.4 576.2L1072.9 574.4L1073.4 572.4L1073.9 571.0L1074.4 569.6L1074.8 568.0L1075.3 566.0L1075.7 564.2L1076.1 562.4L1076.6 560.3L1077.2 558.6L1077.8 557.5L1078.9 556.4L1080.2 555.7L1081.7 555.2L1083.0 555.3L1084.6 556.0L1086.2 556.6L1087.8 557.4L1089.4 558.3L1090.9 559.1L1092.5 559.8L1094.0 560.4L1095.5 561.0L1096.9 561.9L1098.1 563.2L1099.0 564.7L1099.8 566.3L1100.5 567.9L1101.1 569.9L1101.7 571.9L1102.3 573.5L1102.9 574.8L1103.4 576.0L1104.0 577.4L1104.6 579.0L1105.1 581.0L1105.7 583.1L1106.2 585.0L1106.7 587.2L1107.3 589.4L1107.8 591.5L1108.2 593.2L1108.7 594.8L1109.2 596.5L1109.6 598.2L1109.9 599.9L1110.3 601.8L1110.7 603.9L1111.0 606.2L1111.3 608.4L1111.7 610.6L1112.1 612.7L1112.5 614.4L1112.9 615.5L1113.3 616.8L1113.7 618.6L1114.2 620.3L1114.6 622.1L1115.1 624.0L1115.5 625.9L1116.0 627.6L1116.5 629.2L1116.9 630.7L1117.4 632.4L1117.9 634.5L1118.4 636.4L1118.9 638.0L1119.5 639.6L1120.0 641.0L1120.5 642.6L1121.1 644.4L1121.6 646.2L1122.2 648.2L1122.8 650.5L1123.3 652.7L1123.9 654.5L1124.5 655.9L1125.1 657.5L1125.7 659.5L1126.3 661.7L1126.9 663.6L1127.4 665.0L1128.0 666.2L1128.8 668.1L1129.5 669.9L1130.2 671.6L1131.0 673.3L1131.9 674.8L1133.1 676.4L1134.4 677.5L1135.7 677.7L1136.8 676.4L1137.8 674.3L1138.7 672.6L1139.6 671.4L1140.2 670.5L1140.7 669.0L1141.1 666.9L1141.5 664.7L1141.9 662.7L1142.3 660.6L1142.8 658.3L1143.4 656.1L1144.1 654.0L1144.9 652.3L1145.7 650.7L1146.5 649.1L1147.4 647.8L1148.3 646.6L1149.2 645.3L1150.5 643.5L1151.8 641.6L1153.1 639.6L1154.1 638.0L1154.6 636.4L1154.8 634.3L1155.0 631.9L1155.3 629.9L1156.0 629.0L1157.3 628.9L1159.0 629.1L1160.9 629.7L1162.7 630.4L1164.2 631.0L1165.8 631.6L1167.5 632.1L1169.0 632.6L1170.5 633.3L1172.0 634.2L1173.5 635.2L1174.9 636.4L1176.3 637.4L1177.5 638.5L1178.6 639.9L1179.6 641.5L1180.8 643.0L1182.0 643.6L1183.4 643.2L1184.9 642.3L1186.4 641.2L1188.1 640.0L1189.8 639.1L1191.3 638.4L1192.9 637.5L1194.6 636.5L1196.3 635.8L1198.0 635.1L1199.7 634.5L1201.4 634.2L1203.3 634.0L1205.3 633.7L1207.3 633.3L1209.2 633.0L1211.1 632.7L1212.9 632.5L1214.5 632.3L1216.1 632.1L1217.5 632.0L1219.1 631.7L1220.7 631.1L1222.5 630.8L1224.5 630.5L1226.5 630.5L1228.5 630.9L1230.4 631.8L1232.2 632.5L1233.9 632.9L1235.6 633.3L1237.1 634.2L1238.6 635.8L1240.0 637.3L1241.6 638.6L1243.0 639.8L1244.5 641.0L1245.8 641.9L1247.1 643.0L1248.4 644.1L1250.0 645.0L1251.4 645.6L1253.0 645.9L1254.8 645.6L1256.8 645.0L1258.7 644.7L1260.7 644.9L1262.5 645.2L1264.3 645.4L1266.1 645.5L1267.9 645.9L1269.7 646.4L1271.5 647.0L1273.3 647.6L1275.1 647.9L1276.8 647.9L1278.4 647.2L1280.1 646.4L1281.8 645.9L1283.4 645.2L1285.1 644.3L1286.9 643.7L1288.6 643.5L1290.5 643.3L1292.4 643.0L1294.3 642.8L1296.3 643.2L1298.3 643.7L1300.2 643.9L1302.2 643.9L1304.1 643.8L1305.9 643.5L1307.6 642.9L1309.4 642.1L1311.2 641.3L1312.9 640.3L1314.6 639.3L1316.3 638.2L1317.9 637.1L1319.5 636.2L1321.1 635.5L1322.6 634.9L1324.1 634.3L1325.5 633.3L1326.9 632.0L1328.3 630.6L1329.7 629.2L1331.1 627.9L1332.6 626.8L1334.0 625.6L1335.4 624.1L1336.9 622.4L1338.3 621.0L1339.8 620.3L1341.2 619.8L1342.7 619.4L1344.5 618.6L1346.3 617.7L1348.1 616.7L1349.9 615.8L1351.6 615.2L1353.3 615.1L1355.2 615.4L1357.0 615.6L1358.7 615.5L1360.3 615.6L1361.8 616.4L1363.2 617.4L1364.6 618.5L1366.1 619.9L1367.3 621.2L1368.5 622.6L1369.7 623.9L1371.0 625.0L1372.3 626.2L1373.5 627.5L1374.8 628.7L1376.3 629.9L1377.7 631.1L1379.2 632.4L1380.7 633.9L1382.1 635.3L1383.5 636.7L1384.8 638.2L1386.1 640.0L1387.4 641.5L1388.6 642.1L1389.8 642.5L1391.0 643.7L1392.2 645.6L1393.4 647.6L1394.5 649.2L1395.7 650.2L1396.8 651.1L1398.1 652.8L1399.4 654.8L1400.7 656.5L1402.0 657.2L1403.8 656.9L1405.5 655.9L1407.0 654.8L1408.4 653.7L1409.4 652.8L1410.3 651.2L1411.3 648.9L1412.2 646.6L1413.0 644.8L1413.6 643.6L1414.1 642.1L1414.6 640.2L1415.1 638.6L1415.6 637.2L1416.0 635.6L1416.5 633.7L1417.0 631.8L1417.5 629.9L1418.0 628.0L1418.6 625.8L1419.0 623.4L1419.5 621.3L1420.0 619.8L1420.4 618.5L1420.9 617.1L1421.3 615.3L1421.7 613.6L1422.1 612.0L1422.5 610.3L1422.9 608.2L1423.4 605.9L1423.8 603.8L1424.3 601.7L1424.7 599.8L1425.2 597.7L1425.7 595.3L1426.1 593.2L1426.5 591.3L1426.8 589.6L1427.2 587.9L1427.6 586.0L1428.1 584.0L1428.7 582.3L1429.5 580.9L1430.8 579.6L1432.3 578.8L1433.8 578.3L1435.3 577.9L1436.5 578.1L1437.6 579.4L1438.7 581.1L1439.9 582.7L1441.1 584.1L1442.3 585.2L1443.6 586.7L1444.9 588.7L1446.2 590.4L1447.5 591.4L1448.8 591.7L1450.1 591.4L1451.4 590.6L1452.7 588.9L1454.0 586.6L1455.3 584.4L1456.6 582.8L1457.9 581.4L1459.2 580.0L1460.4 578.4L1461.7 576.7L1463.0 574.9L1464.3 573.2L1465.4 571.8L1466.4 570.5L1467.5 569.3L1468.6 568.0L1469.7 566.4L1470.8 564.6L1471.8 563.0L1472.9 561.3L1473.9 559.3L1475.1 557.1L1476.3 555.5L1477.5 554.6L1478.6 553.4L1479.7 551.7L1480.8 550.0L1481.7 548.6L1482.5 547.1L1483.2 545.1L1483.8 542.9L1484.4 541.1L1484.9 539.5L1485.5 537.9L1486.0 536.5L1486.5 535.0L1486.9 533.4L1487.3 531.6L1487.7 529.6L1488.1 527.6L1488.4 525.6L1488.7 523.5L1489.0 521.5L1489.4 519.6L1489.7 517.6L1490.0 515.4L1490.3 513.5L1490.6 511.9L1491.0 510.1L1491.3 507.8L1491.6 505.3L1491.9 502.8L1492.3 500.6L1492.6 498.8L1492.9 497.2L1493.2 495.5L1493.6 493.4L1494.0 491.1L1494.4 489.0L1494.7 486.9L1495.1 484.9L1495.5 483.1L1496.0 481.5L1496.5 480.0L1497.1 478.8L1498.1 477.3L1499.3 476.3L1500.4 475.9L1501.3 476.5L1502.1 477.7L1503.0 479.2L1503.9 480.6L1504.8 481.8L1505.7 483.4L1506.7 485.7L1507.7 488.1L1508.6 490.3L1509.6 491.9L1510.6 492.5L1511.6 492.0L1512.6 490.7L1513.6 488.8L1514.6 486.7L1515.5 484.7L1516.4 482.6L1517.0 480.8L1517.5 479.1L1518.0 477.7L1518.4 476.1L1518.8 474.1L1519.2 471.6L1519.6 469.0L1520.0 466.8L1520.4 465.0L1520.8 463.5L1521.2 461.8L1521.6 459.6L1522.1 457.4L1522.5 455.0L1522.9 452.7L1523.4 450.6L1523.8 448.8L1524.2 447.2L1524.7 445.7L1525.1 444.2L1525.6 442.4L1526.1 440.3L1526.6 438.4L1527.1 436.4L1527.6 434.1L1528.1 431.9L1528.6 430.2L1529.1 428.8L1529.6 427.3L1530.2 425.6L1530.7 423.8L1531.3 421.9L1531.9 420.3L1532.6 418.6L1533.3 416.8L1534.1 415.0L1534.9 413.4L1535.7 412.0L1536.5 410.5L1537.2 408.8L1537.9 406.9L1538.6 405.0L1539.2 403.0L1539.8 401.1L1540.3 399.4L1540.9 398.1L1541.4 396.8L1541.9 395.1L1542.4 393.1L1542.9 391.2L1543.4 389.5L1543.9 387.7L1544.4 385.9L1544.9 384.2L1545.4 382.4L1545.9 380.5L1546.4 378.3L1547.0 376.1L1547.6 374.3L1548.3 372.8L1549.5 370.7L1550.8 368.7L1552.2 366.9L1553.5 366.2L1554.6 366.5L1555.7 367.8L1556.9 369.8L1557.9 372.1L1558.9 374.4L1559.5 375.8L1560.1 377.3L1560.6 378.9L1561.1 380.5L1561.5 382.5L1562.0 385.0L1562.4 387.6L1562.9 389.9L1563.3 392.0L1563.8 393.9L1564.2 395.7L1564.7 397.3L1565.2 399.0L1565.8 401.1L1566.3 403.6L1566.8 405.6L1567.4 406.8L1567.9 408.0L1568.4 409.5L1569.0 411.6L1569.5 413.9L1570.0 416.0L1570.5 418.0L1570.9 419.8L1571.3 421.9L1571.7 424.1L1572.1 426.2L1572.4 427.9L1572.8 429.6L1573.2 431.3L1573.5 433.1L1573.9 435.3L1574.3 437.5L1574.6 439.5L1575.0 441.3L1575.3 443.4L1575.6 445.6L1576.0 447.7L1576.3 449.5L1576.6 451.1L1576.9 452.9L1577.2 454.9L1577.5 456.8L1577.8 458.8L1578.1 461.0L1578.4 463.2L1578.6 465.3L1578.9 467.3L1579.2 469.4L1579.4 471.7L1579.7 473.8L1580.0 475.6L1580.3 477.5L1580.5 479.3L1580.8 480.9L1581.1 482.4L1581.4 484.1L1581.7 486.0L1582.0 488.2L1582.3 490.4L1582.6 492.3L1582.9 493.9L1583.2 495.7L1583.5 497.8L1583.8 500.0L1584.1 502.0L1584.4 503.9L1584.7 505.7L1585.0 507.6L1585.3 509.6L1585.6 511.6L1585.9 513.5L1586.3 515.5L1586.6 517.4L1587.0 519.1L1587.3 520.7L1587.7 522.4L1588.0 524.5L1588.4 526.7L1588.7 528.7L1589.1 530.7L1589.5 532.7L1589.9 534.5L1590.3 536.1L1590.7 537.8L1591.1 539.7L1591.6 541.6L1592.0 543.6L1592.5 545.9L1593.0 548.0L1593.5 550.0L1594.0 551.9L1594.5 553.8L1595.0 555.9L1595.5 557.9L1596.0 559.5L1596.5 561.3L1597.0 563.2L1597.5 565.2L1598.0 567.3L1598.5 569.0L1599.0 570.5L1599.5 572.1L1600.1 574.3L1600.6 576.4L1601.1 578.2L1601.7 580.0L1602.2 582.0L1602.8 583.8L1603.3 585.5L1603.9 586.8L1604.5 588.1L1605.1 589.7L1605.7 591.3L1606.3 593.1L1606.9 595.1L1607.5 597.2L1608.1 599.4L1608.8 601.1L1609.4 602.5L1610.0 603.8L1610.8 605.6L1611.6 607.6L1612.4 610.0L1613.2 612.4L1614.0 614.3L1614.9 616.0L1615.8 617.5L1616.9 618.9L1618.0 619.7L1619.3 620.1L1620.7 620.4L1622.4 621.0L1624.3 621.3L1626.3 621.3L1628.3 621.1L1630.3 621.1L1632.2 621.1L1634.2 621.1L1636.2 621.2L1638.1 621.4L1640.0 621.7L1641.7 622.1L1643.3 622.9L1644.9 623.8L1646.5 624.9L1648.1 626.0L1649.7 626.9L1651.3 627.9L1652.9 628.9L1654.4 630.1L1656.0 631.3L1657.6 632.4L1659.3 633.1L1660.9 633.3L1662.5 633.5L1664.2 634.2L1665.9 635.3L1667.6 636.2L1669.3 636.6L1670.9 636.9L1672.8 637.7L1674.7 638.5L1676.6 638.7L1678.5 638.3L1680.5 637.9L1682.1 637.8L1683.8 637.9L1685.6 637.6L1687.3 636.3L1689.1 634.5L1690.8 632.9L1692.5 632.1L1694.1 632.0L1695.8 632.2L1697.4 632.9L1699.0 633.9L1700.5 635.3L1702.1 636.7L1703.7 637.6L1705.6 637.9L1707.6 637.9L1709.5 637.9L1711.5 638.0L1713.4 638.3L1715.0 638.4L1716.6 638.1L1718.2 637.2L1719.7 636.0L1721.3 634.5L1723.0 633.4L1724.6 632.7L1726.2 632.5L1727.9 632.4L1729.6 631.9L1731.3 631.2L1733.0 630.6L1734.6 629.6L1736.1 628.5L1737.6 627.4L1739.1 626.4L1740.5 625.4L1742.0 624.4L1743.4 623.0L1744.8 621.3L1746.2 619.9L1747.6 619.1L1749.0 618.0L1750.3 616.6L1751.7 615.1L1753.1 613.7L1754.4 612.0L1755.6 610.0L1756.7 608.2L1757.8 606.5L1759.0 604.7L1760.0 603.5L1760.9 602.2L1761.9 600.6L1763.0 599.3L1764.1 598.3L1765.2 596.9L1766.4 595.2L1767.7 593.4L1768.9 591.8L1770.0 590.6L1771.1 589.3L1772.2 587.9L1773.2 586.1L1774.2 583.9L1775.1 581.7L1776.0 579.9L1776.9 578.6L1777.7 577.2L1778.3 575.4L1779.0 573.6L1779.7 571.9L1780.5 570.3L1781.5 569.0L1782.7 568.0L1784.2 567.1L1785.7 566.0L1787.3 564.7L1789.0 563.4L1790.6 562.3L1792.2 561.5L1793.8 560.6L1795.6 559.3L1797.3 558.0L1799.0 556.6L1800.6 555.0L1802.2 553.7L1803.7 552.7L1805.3 551.5L1806.8 550.0L1808.3 548.6L1809.6 547.3L1810.8 546.3L1811.8 545.6L1812.9 544.6L1813.9 543.1L1814.6 541.3L1815.4 539.7L1816.3 538.2L1817.2 536.2L1818.1 534.2L1819.1 532.5L1820.0 530.9L1820.9 529.1L1821.8 527.5L1822.6 526.3L1823.5 524.8L1824.3 522.9L1825.2 520.8L1826.1 518.9L1826.9 517.4L1827.8 516.3L1828.7 515.0L1829.6 513.0L1830.5 510.9L1831.4 509.1L1832.3 507.7L1833.1 506.4L1834.0 505.2L1834.8 503.9L1835.5 502.4L1836.1 500.5L1836.7 498.4L1837.2 496.2L1837.8 493.8L1838.4 491.3L1839.1 489.3L1839.9 488.0L1840.8 487.1L1842.5 486.2L1844.4 485.4L1846.5 485.0L1848.5 484.9L1850.1 484.6L1851.7 483.8L1853.3 482.9L1855.0 482.1L1856.6 481.2L1858.1 479.8L1859.7 478.2L1861.3 476.7L1862.8 475.6L1864.3 474.8L1865.6 473.6L1866.8 471.9L1867.6 470.3L1868.1 468.5L1868.5 466.5L1868.8 464.6L1869.3 462.7L1869.8 461.0L1870.7 459.7L1872.1 458.9L1873.9 458.6L1875.7 458.3L1877.6 458.0L1879.4 457.2L1880.8 456.1L1882.2 455.0L1883.6 453.9L1885.0 452.5L1886.4 451.0L1887.7 449.6L1889.0 448.5L1890.3 447.1L1891.6 445.7L1892.9 444.4L1894.2 443.1L1895.5 441.8L1896.8 440.4L1898.1 439.0L1899.5 437.6L1900.9 436.4L1902.4 435.3L1903.8 434.1L1905.1 432.7L1906.4 431.0L1907.6 429.1L1908.8 427.3L1909.9 425.7L1911.0 424.4L1912.0 423.4L1913.1 422.1L1914.1 420.5L1915.1 418.6L1916.0 416.8L1916.9 415.2L1917.8 414.0L1918.8 412.7L1919.9 411.3L1921.1 409.9L1922.4 408.4L1923.8 406.8L1925.2 405.1L1926.7 403.4L1928.2 401.6L1929.6 400.4L1931.0 400.0L1932.4 399.8L1933.8 399.1L1935.2 398.0L1936.6 396.3L1937.9 394.5L1939.2 393.2L1940.4 392.1L1941.7 390.9L1942.8 389.3L1943.9 387.7L1945.0 386.0L1946.0 384.3L1946.9 382.6L1947.6 381.2L1948.1 379.6L1948.6 377.9L1949.0 376.1L1949.4 374.1L1949.9 372.0L1950.4 370.0L1951.0 368.1L1951.8 366.4L1952.7 365.1L1954.0 364.2L1955.6 363.9L1957.3 363.7L1959.1 363.3L1960.9 362.9L1962.6 362.6L1964.3 362.2L1966.0 361.8L1967.6 361.3L1969.3 360.9L1970.9 360.6L1972.4 360.2L1974.0 359.1L1975.4 357.5L1976.9 356.1L1978.3 355.2L1979.7 354.2L1981.1 353.2L1982.4 352.5L1983.6 352.1L1985.4 351.7L1987.1 351.3L1988.5 350.3L1989.2 349.2L1989.6 347.9L1989.9 345.8L1990.1 343.4L1990.3 341.5L1990.5 339.9L1990.9 338.2L1991.4 336.3L1992.2 334.1L1993.0 332.0L1993.9 330.4L1994.9 329.1L1996.0 327.6L1997.1 326.2L1998.7 324.8L2000.4 323.8L2002.2 323.0L2003.9 322.4L2005.1 322.6L2006.2 323.8L2007.3 325.5L2008.5 327.1L2009.6 328.6L2010.7 330.0L2011.8 331.2L2012.8 332.4L2013.9 334.2L2015.0 336.2L2016.1 337.9L2017.2 339.0L2018.4 339.5L2019.9 339.3L2021.4 338.4L2022.9 337.1L2024.5 335.8L2026.0 334.7L2029.0 334.7"/>
<use href="#p2" stroke="#009E73" stroke-width="7.6" shape-rendering="geometricPrecision"/>
<path id="p3" stroke="#FF7F00" d="M206.5 559.6L209.5 559.6L211.4 559.2L213.4 559.4L215.3 559.8L217.3 560.6L219.2 560.3L221.2 559.9L223.1 560.3L225.1 560.9L227.0 561.4L229.0 561.3L230.9 560.7L232.9 559.8L234.8 559.3L236.7 559.7L238.7 559.7L240.6 559.3L242.5 559.9L244.4 560.3L246.3 560.8L248.1 561.3L250.0 561.0L252.0 561.2L253.9 561.4L255.8 560.4L257.7 560.3L259.6 560.9L261.5 561.0L263.3 561.2L265.2 561.9L267.0 562.4L268.9 562.1L270.7 562.5L272.6 563.4L274.5 563.7L276.4 563.0L278.4 562.4L280.4 562.0L282.4 562.3L284.5 563.0L286.3 563.3L288.1 564.0L290.0 564.0L291.9 564.1L293.9 564.0L295.9 563.6L297.9 563.6L299.9 564.0L302.0 563.9L304.0 563.9L306.1 563.7L308.2 563.8L310.2 564.5L312.3 564.8L314.4 564.7L316.4 564.4L318.4 564.1L320.4 564.1L322.4 563.9L324.3 564.3L326.2 564.1L328.1 564.1L329.9 564.5L331.7 565.0L333.4 565.5L335.0 566.2L337.2 566.4L339.5 566.4L341.6 566.3L343.8 566.4L345.8 566.2L347.9 565.6L349.8 565.1L351.7 565.3L353.5 565.7L355.3 565.4L356.9 565.5L358.5 565.5L360.0 565.6L362.1 565.3L363.9 565.2L365.6 564.0L367.3 563.0L369.0 563.0L370.7 563.1L372.4 563.2L374.1 563.1L375.9 563.4L378.0 564.2L379.5 564.6L381.1 564.8L382.8 564.6L384.6 564.2L386.4 564.7L388.4 564.7L390.3 564.1L392.4 563.3L394.4 563.1L396.5 563.2L398.6 563.5L400.6 563.8L402.7 564.5L404.4 565.2L406.2 565.1L407.9 565.0L409.7 565.0L411.5 564.8L413.3 565.1L415.1 565.5L416.9 565.8L418.8 565.9L420.6 566.3L422.5 567.2L424.4 567.9L426.4 568.2L428.3 568.2L430.3 567.8L432.4 568.0L434.4 568.7L436.5 568.7L438.2 566.8L440.0 567.8L441.9 569.7L443.8 570.4L445.7 570.7L447.7 570.1L449.7 568.7L451.7 567.1L453.8 567.1L455.9 567.8L458.0 571.5L460.1 573.6L462.2 574.6L464.3 573.3L466.4 571.8L468.5 571.8L470.5 570.2L472.6 570.6L474.6 571.3L476.6 572.8L478.5 574.0L480.4 573.9L482.2 573.5L484.0 573.3L485.7 573.1L487.4 573.9L489.0 574.2L490.5 575.3L492.8 575.1L495.0 571.5L497.2 569.9L499.3 569.7L501.3 568.9L503.2 567.8L505.0 568.6L506.7 572.3L508.3 571.7L509.7 569.7L511.0 569.4L513.0 572.4L514.6 573.0L516.0 572.9L516.8 573.3L517.4 575.4L517.8 577.0L518.2 579.1L518.6 584.5L519.0 585.2L519.5 584.3L520.1 583.6L520.5 584.2L521.1 585.3L521.9 582.0L523.0 578.1L524.3 577.7L525.8 577.0L527.5 576.1L529.4 574.9L531.4 574.6L533.5 575.1L535.8 575.1L538.0 574.9L539.6 575.9L541.3 576.2L543.1 573.9L545.0 573.0L546.9 573.1L548.9 573.9L550.9 573.6L552.9 572.7L555.0 572.1L557.1 571.9L559.2 570.8L561.3 568.2L563.4 567.3L565.5 567.8L567.6 567.6L569.6 569.4L571.6 571.6L573.6 572.6L575.5 572.7L577.5 571.0L579.5 569.4L581.4 568.2L583.4 568.3L585.3 569.8L587.3 571.2L589.3 571.0L591.2 570.0L593.2 571.6L595.2 572.0L597.1 572.0L599.1 573.7L601.1 575.2L603.0 574.6L605.0 574.7L606.9 577.2L608.7 576.1L610.6 576.8L612.4 577.5L614.3 576.4L616.1 577.1L617.9 577.3L619.8 577.9L621.6 578.2L623.5 578.5L625.3 576.3L627.2 576.4L629.1 575.8L631.0 575.3L633.0 577.8L635.0 577.3L637.0 576.9L639.0 577.0L640.8 576.5L642.7 577.4L644.6 579.4L646.5 581.2L648.5 583.6L650.4 584.7L652.4 582.6L654.4 580.9L656.5 580.9L658.5 580.8L660.6 580.1L662.6 577.9L664.7 577.3L666.7 580.3L668.8 581.6L670.8 581.2L672.8 579.1L674.8 579.6L676.8 579.8L678.8 578.9L680.8 581.9L682.7 583.9L684.6 583.6L686.5 583.3L688.6 582.6L690.6 580.9L692.6 579.5L694.5 580.2L696.4 581.4L698.4 581.6L700.3 581.9L702.2 580.1L704.0 578.9L705.9 578.3L707.8 579.5L709.7 579.3L711.6 579.2L713.5 577.0L715.5 577.4L717.5 577.5L719.5 577.9L721.5 579.5L723.6 578.9L725.4 577.4L727.2 578.1L729.1 578.0L730.9 578.7L732.8 578.0L734.7 579.3L736.6 580.2L738.5 579.5L740.5 577.5L742.4 576.4L744.4 577.5L746.3 578.3L748.3 578.3L750.3 578.2L752.3 578.4L754.2 579.9L756.2 580.3L758.2 580.4L760.2 580.2L762.2 580.4L764.2 580.5L766.2 580.2L768.1 579.5L770.1 579.2L772.1 579.1L774.0 579.0L776.0 579.3L778.0 579.4L780.0 579.7L782.0 580.5L784.1 580.9L786.1 581.1L788.2 580.9L790.3 580.8L792.3 580.6L794.4 580.0L796.5 579.6L798.6 579.6L800.6 580.0L802.6 579.8L804.7 579.5L806.7 579.2L808.7 579.3L810.6 579.4L812.6 579.3L814.5 579.1L816.3 578.5L818.1 578.4L819.9 578.6L821.7 579.0L823.4 578.9L825.0 579.1L827.2 579.4L829.4 579.2L831.5 579.0L833.6 578.7L835.6 579.1L837.6 578.9L839.5 578.6L841.4 578.3L843.2 578.2L844.9 577.8L846.7 577.5L848.4 577.6L850.0 577.1L852.2 576.6L854.2 576.5L856.1 576.6L858.0 576.1L859.8 575.4L861.7 574.9L863.5 574.6L865.5 574.3L867.5 574.4L869.5 573.8L871.4 573.2L873.3 572.7L875.1 571.7L876.6 571.0L878.1 570.6L879.5 569.9L880.9 568.3L882.2 567.3L883.5 566.2L884.7 564.8L885.8 563.1L886.9 561.5L887.9 560.0L888.8 558.5L889.7 556.5L890.6 554.5L891.5 552.9L892.5 551.6L893.4 549.8L894.4 547.8L895.3 546.0L896.2 544.4L897.2 542.6L898.1 541.1L899.1 540.0L900.2 538.7L901.3 537.3L902.5 536.0L903.7 534.8L904.9 533.6L906.1 532.2L907.4 530.7L908.6 529.1L909.8 527.7L911.0 526.6L912.2 525.4L913.4 523.9L914.6 522.3L915.8 521.0L917.0 519.7L918.2 518.2L919.5 516.8L921.1 515.3L922.8 514.3L924.5 513.5L926.2 512.8L927.8 511.7L929.2 510.3L930.3 508.8L931.2 507.4L932.1 506.2L932.8 504.8L933.5 503.0L934.2 501.5L934.9 500.0L935.5 498.3L936.1 496.2L936.6 493.9L937.0 491.8L937.5 490.1L937.9 488.3L938.3 486.4L938.8 484.8L939.2 483.4L939.6 481.8L940.0 479.9L940.3 478.1L940.7 476.1L941.1 474.2L941.5 472.2L941.9 470.4L942.3 468.6L942.7 466.6L943.1 464.9L943.5 463.1L944.0 461.3L944.4 459.6L944.9 458.0L945.4 456.3L945.9 454.5L946.3 452.6L946.8 450.5L947.3 448.4L947.7 446.5L948.1 444.7L948.5 442.8L948.9 440.5L949.3 438.4L949.6 436.7L950.0 435.3L950.3 434.0L950.6 432.4L950.9 430.4L951.3 428.2L951.6 426.1L951.9 424.3L952.3 422.8L952.6 421.2L953.0 419.0L953.4 416.6L953.7 414.4L954.1 412.2L954.5 410.3L954.9 408.6L955.2 407.1L955.6 405.5L956.0 403.7L956.4 401.8L956.7 399.9L957.1 397.8L957.5 395.8L957.8 393.6L958.2 391.4L958.5 389.3L958.9 387.3L959.3 385.3L959.6 383.4L960.0 381.5L960.3 379.5L960.7 377.4L961.0 375.2L961.4 373.3L961.7 371.7L962.0 370.1L962.3 368.3L962.6 366.3L962.9 364.2L963.2 362.1L963.4 360.3L963.7 358.7L964.0 357.1L964.2 355.4L964.5 353.6L964.7 351.5L965.0 349.4L965.3 347.3L965.5 344.9L965.8 342.5L966.1 340.6L966.4 339.0L966.6 337.4L966.9 335.5L967.2 333.3L967.5 331.2L967.7 328.9L968.0 326.8L968.3 325.0L968.6 323.2L968.9 321.5L969.1 319.6L969.4 317.3L969.7 315.1L970.0 313.3L970.3 311.7L970.6 309.9L970.9 308.1L971.2 306.1L971.4 303.8L971.7 301.6L972.0 299.8L972.3 298.0L972.6 295.9L973.0 293.9L973.3 292.4L973.6 290.9L974.0 289.0L974.5 286.8L974.9 284.8L975.4 283.0L975.9 281.1L976.3 279.3L976.7 277.9L977.1 276.1L977.4 273.9L977.6 271.7L977.7 269.4L977.8 266.8L977.8 264.3L977.8 262.3L977.8 260.7L977.9 259.1L978.0 257.5L978.3 255.7L978.6 254.1L979.2 252.6L979.8 251.3L980.5 249.7L981.3 247.9L982.2 246.2L983.2 244.7L984.5 243.3L985.9 242.3L987.4 241.7L989.0 240.9L990.7 239.6L992.5 238.3L994.2 237.6L995.8 237.6L996.8 237.9L997.8 238.7L998.7 240.2L999.6 242.2L1000.4 244.7L1001.2 247.1L1001.9 249.0L1002.5 250.6L1003.1 252.1L1003.5 253.8L1003.9 255.7L1004.3 257.9L1004.5 260.0L1004.8 261.9L1005.1 263.6L1005.4 265.7L1005.6 267.6L1005.9 269.5L1006.1 270.9L1006.3 272.6L1006.5 274.9L1006.7 277.3L1006.9 279.4L1007.1 281.0L1007.3 282.3L1007.4 283.6L1007.6 285.4L1007.9 287.7L1008.1 290.3L1008.3 292.8L1008.5 294.8L1008.7 296.7L1009.0 298.5L1009.2 300.3L1009.5 302.1L1009.7 303.8L1010.0 305.2L1010.2 306.8L1010.5 308.8L1010.7 310.8L1011.0 312.7L1011.2 314.8L1011.5 316.9L1011.7 318.8L1012.0 320.7L1012.2 323.0L1012.4 325.4L1012.7 327.6L1012.9 329.4L1013.1 331.0L1013.4 333.1L1013.6 335.7L1013.8 338.1L1014.1 340.1L1014.3 342.0L1014.5 343.8L1014.8 345.4L1015.0 346.7L1015.2 348.5L1015.5 350.6L1015.7 352.7L1016.0 354.3L1016.3 356.0L1016.6 358.0L1016.9 360.3L1017.2 362.6L1017.6 364.6L1017.9 366.6L1018.2 368.7L1018.5 370.7L1018.9 372.6L1019.2 374.3L1019.5 375.7L1019.9 377.3L1020.2 379.2L1020.6 381.5L1020.9 384.1L1021.3 386.6L1021.6 388.4L1022.0 389.9L1022.3 391.5L1022.7 393.3L1023.1 394.9L1023.5 396.8L1023.9 398.9L1024.3 400.6L1024.7 402.4L1025.2 404.5L1025.6 406.6L1026.1 408.6L1026.6 410.5L1027.2 412.3L1027.7 414.0L1028.2 415.5L1028.8 416.7L1029.3 417.8L1029.9 419.1L1030.5 421.0L1031.3 423.6L1032.0 426.0L1032.7 427.9L1033.5 429.4L1034.4 430.9L1035.3 432.5L1036.3 434.0L1037.4 435.4L1038.7 436.9L1040.0 438.6L1041.3 439.8L1042.7 440.3L1044.0 440.4L1045.3 440.1L1046.6 439.4L1048.0 438.3L1049.3 437.0L1050.5 436.1L1051.7 435.1L1052.6 433.9L1053.5 432.2L1054.3 430.0L1055.0 428.0L1055.8 426.3L1056.5 424.6L1057.1 423.0L1057.8 421.6L1058.5 420.2L1059.3 418.5L1060.1 416.8L1060.8 415.1L1061.5 413.5L1062.2 411.8L1062.8 410.1L1063.3 408.6L1063.6 407.1L1063.8 405.4L1064.0 403.3L1064.0 400.9L1064.0 398.7L1064.1 396.4L1064.3 394.1L1064.5 392.5L1064.8 391.4L1065.2 390.1L1065.7 388.4L1066.2 386.6L1066.7 384.6L1067.2 382.4L1067.6 380.3L1068.1 378.4L1068.5 376.8L1069.0 374.9L1069.4 372.5L1069.8 370.1L1070.2 368.4L1070.6 367.1L1071.1 365.6L1071.5 363.6L1072.0 361.5L1072.5 359.9L1073.0 358.6L1073.5 357.3L1074.0 355.9L1074.6 354.2L1075.1 352.1L1075.7 349.9L1076.2 348.0L1076.8 346.4L1077.4 344.7L1078.0 343.1L1078.6 341.6L1079.2 340.0L1079.9 338.4L1080.7 336.7L1081.7 335.2L1083.2 333.8L1084.9 332.8L1086.6 332.5L1088.4 333.0L1089.7 334.1L1091.1 335.3L1092.5 336.5L1094.0 337.6L1095.4 338.8L1096.7 340.1L1097.9 341.8L1099.0 343.6L1099.9 345.2L1100.7 346.8L1101.4 348.3L1102.1 350.0L1102.6 351.8L1103.2 353.8L1103.7 355.7L1104.3 358.0L1104.8 360.4L1105.3 362.5L1105.7 364.3L1106.2 365.7L1106.6 367.1L1107.0 368.9L1107.4 371.1L1107.8 373.6L1108.2 375.8L1108.5 377.6L1108.9 379.3L1109.3 381.1L1109.7 383.0L1110.1 384.9L1110.4 386.9L1110.8 388.9L1111.2 390.8L1111.5 392.7L1111.9 394.5L1112.3 396.4L1112.6 398.5L1113.0 400.8L1113.3 403.0L1113.7 404.8L1114.1 406.3L1114.5 408.1L1114.9 410.4L1115.3 412.4L1115.7 413.9L1116.1 415.5L1116.5 417.4L1116.9 419.2L1117.3 421.1L1117.7 423.0L1118.1 425.0L1118.6 427.2L1119.0 429.6L1119.4 432.0L1119.9 433.9L1120.3 435.5L1120.8 437.0L1121.2 438.6L1121.7 440.7L1122.2 443.0L1122.6 445.2L1123.1 447.0L1123.6 448.5L1124.1 450.2L1124.6 452.3L1125.1 454.4L1125.6 455.9L1126.1 456.7L1126.7 458.1L1127.4 460.1L1128.0 462.4L1128.6 464.2L1129.3 465.5L1130.0 466.4L1130.9 467.1L1132.4 468.6L1134.1 469.9L1135.7 470.4L1137.0 469.9L1138.3 469.0L1139.5 468.1L1140.5 466.7L1141.1 465.0L1141.5 463.2L1141.8 461.3L1142.0 459.4L1142.2 457.2L1142.4 454.8L1142.6 452.5L1143.0 450.5L1143.4 448.7L1144.0 447.0L1144.6 445.3L1145.3 443.6L1146.0 441.7L1146.8 440.1L1147.6 438.6L1148.4 437.1L1149.2 435.6L1150.4 434.0L1151.7 432.5L1153.0 430.9L1154.1 429.2L1155.0 427.6L1155.5 425.9L1155.6 424.0L1155.7 421.7L1156.2 419.8L1157.2 418.7L1158.4 418.1L1159.8 417.7L1161.3 417.7L1163.0 417.8L1164.9 418.3L1166.8 418.9L1168.5 419.6L1170.2 420.6L1171.7 421.8L1173.3 422.6L1174.8 423.3L1176.3 424.2L1177.6 425.3L1178.9 427.2L1180.2 429.3L1181.4 431.0L1182.7 431.9L1184.0 432.0L1185.3 431.6L1186.5 430.8L1187.7 429.7L1189.0 428.4L1190.3 427.2L1191.7 426.1L1193.2 424.8L1194.7 423.6L1196.4 422.9L1198.0 422.3L1199.7 421.7L1201.4 421.3L1203.3 421.3L1205.2 421.5L1207.2 421.7L1209.2 421.5L1211.1 420.9L1212.9 420.3L1214.6 419.9L1216.1 419.5L1217.6 418.9L1219.1 418.3L1220.7 418.1L1222.3 418.5L1223.9 419.1L1225.5 419.6L1227.1 420.3L1228.7 421.3L1230.3 422.1L1232.3 422.9L1234.3 423.6L1236.2 424.1L1238.0 424.6L1239.3 425.6L1240.4 427.0L1241.5 428.3L1242.6 429.4L1243.8 430.6L1245.2 432.1L1246.7 433.5L1248.2 434.3L1250.0 434.4L1251.7 434.3L1253.5 434.4L1255.4 434.2L1257.4 434.1L1259.5 434.1L1261.6 434.3L1263.4 434.5L1265.3 434.4L1267.2 434.1L1269.2 433.9L1271.2 434.1L1273.2 434.5L1275.2 434.8L1277.1 434.9L1279.0 434.9L1281.0 434.4L1283.0 433.9L1284.9 433.6L1286.7 433.3L1288.6 432.7L1290.5 432.2L1292.5 432.1L1294.4 432.2L1296.3 432.2L1298.3 432.0L1300.3 431.7L1302.3 431.5L1304.2 431.5L1306.1 431.6L1307.9 431.4L1309.7 430.8L1311.5 429.9L1313.2 428.9L1314.8 428.0L1316.4 427.3L1318.0 426.3L1319.5 425.4L1321.2 424.3L1322.8 423.6L1324.3 423.0L1325.7 422.3L1327.2 421.2L1328.5 419.8L1329.8 418.6L1331.1 417.2L1332.4 415.8L1333.6 414.7L1334.9 413.7L1336.2 412.6L1337.4 411.4L1338.7 410.0L1339.9 408.4L1341.3 406.5L1342.7 405.0L1344.2 404.0L1345.8 403.3L1347.4 402.7L1349.1 402.2L1350.7 401.9L1352.3 401.9L1353.9 402.2L1355.6 402.7L1357.2 403.6L1358.8 404.7L1360.4 406.1L1362.0 407.5L1363.4 408.7L1364.9 409.9L1366.4 411.0L1367.8 412.2L1369.3 413.6L1370.7 415.0L1372.2 416.4L1373.6 417.9L1374.9 419.2L1376.2 420.5L1377.5 422.1L1378.8 424.0L1380.1 425.8L1381.4 427.3L1382.6 428.7L1383.9 429.9L1385.1 430.7L1386.4 431.8L1387.7 433.5L1389.1 435.5L1390.4 437.4L1391.6 439.0L1392.8 440.2L1394.0 441.0L1395.0 441.7L1396.4 443.3L1397.6 444.8L1398.8 445.8L1400.1 446.2L1401.3 446.5L1402.6 446.6L1404.3 446.0L1406.0 444.8L1407.4 443.5L1408.8 442.4L1409.7 441.7L1410.6 440.8L1411.5 439.6L1412.4 438.2L1413.2 436.5L1413.9 434.4L1414.6 432.2L1415.3 430.4L1416.0 428.7L1416.5 427.3L1417.0 425.7L1417.6 424.1L1418.1 422.3L1418.7 420.3L1419.2 418.0L1419.7 415.7L1420.3 413.8L1420.8 412.3L1421.3 410.9L1421.8 409.4L1422.3 407.6L1422.7 406.0L1423.2 404.3L1423.6 402.2L1424.1 399.9L1424.5 397.7L1424.9 395.6L1425.3 393.6L1425.7 392.0L1426.2 390.5L1426.6 388.8L1427.1 386.6L1427.6 384.2L1428.0 382.3L1428.5 380.6L1429.1 379.0L1429.7 377.5L1430.5 376.3L1432.0 374.7L1433.6 373.3L1435.3 372.8L1436.5 373.3L1437.6 374.3L1438.8 375.6L1439.9 377.1L1441.1 378.7L1442.2 380.6L1443.4 382.5L1444.5 384.0L1445.7 384.8L1446.9 385.2L1448.4 384.6L1449.9 383.4L1451.3 382.1L1452.7 381.1L1453.7 380.1L1454.6 378.5L1455.5 376.6L1456.4 375.1L1457.5 374.0L1458.6 372.9L1459.8 371.5L1461.0 370.1L1462.3 368.8L1463.6 367.7L1464.9 366.8L1466.2 366.0L1467.3 364.9L1468.4 363.3L1469.5 361.4L1470.6 359.5L1471.7 358.0L1472.8 356.6L1473.9 354.9L1474.9 353.0L1475.9 351.3L1477.0 349.8L1478.0 348.3L1479.0 346.6L1480.0 345.1L1481.0 343.7L1481.9 341.8L1482.8 339.6L1483.6 337.6L1484.3 336.1L1484.9 334.8L1485.5 333.5L1486.0 332.0L1486.5 330.2L1487.0 328.2L1487.5 326.4L1487.9 324.6L1488.4 322.6L1488.8 320.7L1489.2 318.8L1489.5 316.8L1489.9 314.7L1490.2 312.8L1490.5 310.9L1490.8 309.1L1491.1 307.1L1491.4 305.1L1491.7 303.1L1492.0 301.4L1492.3 299.8L1492.6 297.8L1493.0 295.8L1493.3 293.8L1493.6 291.7L1493.9 289.7L1494.2 287.9L1494.6 286.5L1494.9 285.0L1495.2 283.0L1495.5 280.8L1495.8 278.6L1496.0 276.4L1496.3 274.2L1496.6 272.4L1496.9 270.7L1497.2 269.0L1497.6 267.4L1498.1 266.0L1499.1 263.8L1500.3 261.9L1501.5 260.9L1502.5 261.4L1503.6 262.9L1504.7 264.6L1505.8 266.0L1506.9 267.2L1508.0 268.6L1509.1 269.8L1510.2 270.6L1511.4 270.4L1512.8 269.2L1514.1 267.5L1515.3 265.5L1516.4 263.3L1517.1 261.2L1517.7 259.2L1518.2 257.3L1518.6 255.5L1519.0 253.5L1519.4 251.7L1519.8 249.7L1520.3 247.6L1520.7 245.7L1521.1 243.9L1521.6 242.3L1522.0 240.4L1522.4 238.1L1522.8 235.9L1523.3 233.6L1523.7 231.3L1524.1 229.5L1524.6 227.9L1525.1 226.0L1525.6 224.1L1526.1 222.0L1526.6 219.9L1527.1 218.0L1527.6 216.5L1528.1 215.1L1528.6 213.5L1529.2 212.1L1529.7 210.8L1530.3 209.3L1530.9 207.6L1531.6 205.7L1532.3 203.7L1533.1 201.5L1533.8 199.6L1534.6 198.0L1535.4 196.3L1536.1 194.7L1536.9 193.4L1537.6 191.7L1538.3 189.7L1538.9 187.9L1539.6 186.4L1540.2 185.0L1540.8 183.2L1541.5 180.8L1542.1 178.6L1542.7 176.7L1543.4 175.3L1544.3 173.9L1545.3 172.4L1546.2 170.4L1547.2 168.4L1548.3 166.9L1549.7 165.6L1551.1 164.7L1552.5 164.6L1553.7 165.6L1554.8 167.1L1555.9 168.4L1556.9 169.7L1557.5 170.9L1558.0 172.9L1558.4 175.1L1558.8 177.0L1559.2 178.8L1559.6 180.7L1559.9 182.7L1560.3 184.9L1560.8 187.3L1561.2 189.2L1561.7 191.1L1562.2 192.9L1562.6 194.7L1563.1 196.6L1563.6 198.7L1564.1 200.9L1564.6 202.7L1565.1 204.5L1565.6 206.7L1566.1 209.1L1566.6 211.2L1567.1 212.8L1567.6 214.6L1568.1 216.6L1568.6 218.8L1569.0 220.9L1569.5 222.8L1570.0 224.4L1570.5 226.0L1571.0 227.8L1571.5 230.1L1571.9 232.7L1572.4 235.0L1572.8 236.6L1573.2 237.8L1573.6 239.1L1574.0 240.7L1574.4 242.8L1574.8 245.1L1575.2 247.3L1575.6 249.3L1576.0 251.2L1576.4 253.0L1576.7 254.8L1577.1 257.0L1577.5 259.1L1577.8 261.0L1578.2 262.9L1578.6 264.8L1578.9 266.6L1579.3 268.2L1579.6 269.9L1580.0 271.9L1580.3 274.3L1580.6 276.6L1581.0 278.8L1581.3 280.9L1581.6 282.8L1582.0 284.9L1582.3 287.2L1582.6 289.3L1583.0 291.2L1583.4 293.0L1583.8 294.5L1584.2 295.8L1584.6 297.3L1585.0 299.2L1585.4 301.4L1585.8 303.6L1586.2 305.5L1586.6 307.4L1587.0 309.4L1587.4 311.3L1587.8 313.2L1588.2 315.0L1588.6 317.0L1588.9 319.1L1589.3 321.1L1589.7 322.8L1590.0 324.7L1590.4 326.9L1590.8 328.9L1591.1 330.8L1591.5 332.5L1591.9 334.0L1592.3 335.6L1592.7 337.4L1593.1 339.2L1593.5 341.2L1594.0 343.8L1594.4 346.2L1594.8 348.1L1595.3 349.8L1595.7 351.7L1596.1 353.8L1596.6 356.1L1597.1 358.1L1597.5 359.6L1598.0 361.3L1598.5 363.5L1599.0 365.9L1599.5 367.8L1599.9 369.3L1600.4 370.8L1600.9 372.5L1601.4 374.3L1601.9 376.2L1602.5 378.0L1603.0 379.8L1603.5 381.5L1604.1 382.9L1604.6 384.5L1605.2 386.5L1605.8 388.9L1606.5 391.1L1607.2 392.8L1607.9 394.3L1608.6 396.0L1609.3 398.0L1610.0 399.7L1610.8 401.1L1611.5 402.6L1612.2 404.2L1612.9 405.8L1613.7 407.3L1614.5 408.6L1615.3 409.9L1616.1 411.8L1616.9 413.8L1617.8 415.3L1618.7 416.6L1620.0 418.2L1621.4 419.6L1622.9 420.6L1624.5 421.1L1626.3 421.0L1628.2 420.7L1630.2 420.6L1632.2 420.9L1633.8 421.9L1635.3 423.2L1636.8 424.2L1638.4 424.9L1640.0 425.5L1641.6 426.0L1643.2 426.6L1644.8 427.5L1646.5 428.5L1648.2 429.5L1649.9 430.4L1651.6 431.4L1653.2 432.2L1654.9 432.8L1656.5 433.3L1658.1 434.1L1659.8 435.0L1661.5 435.8L1663.2 436.5L1665.0 437.3L1666.9 438.0L1668.8 438.5L1670.8 439.2L1672.7 439.9L1674.7 440.5L1676.7 440.8L1678.6 440.4L1680.4 439.6L1682.4 439.1L1684.3 438.7L1686.2 438.2L1688.2 437.7L1690.1 437.6L1692.1 437.9L1694.0 438.1L1696.0 438.0L1698.0 438.5L1700.0 439.4L1702.0 440.2L1703.9 440.7L1705.9 440.7L1707.7 440.4L1709.5 440.1L1711.3 440.2L1713.0 440.3L1714.6 439.9L1716.2 439.1L1717.8 438.2L1719.4 437.6L1721.1 437.3L1722.7 437.0L1724.3 436.1L1726.0 434.9L1727.6 433.8L1729.3 432.4L1730.9 431.0L1732.5 429.9L1734.1 429.2L1735.5 428.3L1737.0 427.1L1738.4 426.1L1739.8 425.4L1741.1 424.5L1742.4 423.3L1743.7 422.1L1745.0 421.0L1746.4 419.7L1747.8 418.0L1749.2 416.4L1750.6 414.9L1752.0 413.7L1753.4 412.9L1754.8 411.7L1756.0 409.9L1757.3 408.1L1758.5 406.8L1759.7 405.5L1760.9 404.1L1762.1 402.7L1763.3 401.4L1764.5 400.1L1765.7 398.8L1766.9 397.5L1768.2 395.9L1769.4 394.1L1770.6 392.4L1771.8 391.0L1773.0 389.8L1774.2 388.6L1775.3 387.4L1776.4 386.2L1777.5 384.8L1778.6 383.0L1779.7 381.1L1780.8 379.0L1781.8 377.3L1782.9 375.8L1784.0 374.5L1785.2 372.9L1786.4 371.1L1787.6 369.1L1788.8 367.2L1790.0 365.7L1791.1 364.4L1792.3 363.0L1793.5 361.8L1794.7 360.9L1796.0 360.1L1797.2 358.9L1798.4 357.4L1799.7 356.1L1801.0 355.2L1802.4 354.5L1804.0 353.6L1805.5 352.2L1807.1 350.9L1808.5 349.8L1809.9 348.6L1811.2 347.2L1812.4 346.4L1813.5 345.6L1814.6 344.2L1815.6 342.4L1816.6 340.5L1817.3 338.8L1818.0 336.8L1818.6 335.0L1819.1 333.3L1819.7 331.6L1820.2 329.6L1820.8 327.9L1821.4 326.5L1822.0 325.0L1822.7 323.4L1823.5 321.7L1824.3 319.9L1825.1 317.8L1826.0 315.8L1826.9 314.0L1827.8 312.5L1828.7 311.0L1829.5 309.5L1830.3 307.8L1831.1 306.1L1831.9 304.6L1832.7 303.3L1833.5 301.8L1834.2 300.1L1834.9 298.5L1835.6 296.9L1836.3 295.4L1836.9 293.5L1837.4 291.4L1837.9 289.2L1838.3 287.3L1838.7 285.7L1839.1 284.1L1839.5 282.1L1840.1 280.2L1840.8 279.0L1842.0 277.7L1843.4 276.6L1845.0 275.8L1846.6 275.3L1848.4 275.5L1850.4 276.3L1852.4 277.0L1854.3 276.8L1855.9 275.3L1857.4 273.5L1859.0 272.1L1860.5 271.2L1862.0 270.2L1863.2 269.0L1864.4 267.5L1865.6 265.8L1866.9 264.2L1868.1 262.6L1869.3 261.1L1870.5 259.7L1871.7 258.2L1872.9 256.7L1874.1 255.2L1875.2 253.5L1876.4 251.5L1877.6 249.5L1878.8 247.7L1880.0 246.2L1881.3 244.9L1882.9 243.5L1884.5 242.2L1886.1 240.9L1887.8 239.8L1889.4 238.9L1891.0 237.9L1892.3 236.9L1893.5 236.0L1894.8 235.2L1896.0 233.9L1897.2 232.2L1898.3 230.7L1899.5 229.4L1900.6 228.1L1901.8 226.5L1903.0 225.1L1904.1 223.6L1905.2 222.0L1906.3 220.4L1907.3 218.7L1908.3 217.0L1909.2 215.5L1910.0 214.1L1910.8 212.6L1911.6 211.0L1912.4 209.6L1913.2 208.4L1914.1 207.2L1915.0 205.6L1915.9 203.6L1916.8 201.5L1917.7 199.7L1918.7 198.0L1919.7 196.3L1920.8 194.8L1921.9 193.4L1923.4 191.9L1924.9 191.0L1926.5 190.9L1928.1 190.8L1929.6 189.5L1930.8 187.8L1931.9 186.2L1932.9 184.8L1933.9 183.3L1935.0 181.6L1936.1 180.2L1937.3 179.3L1938.6 178.6L1940.1 177.5L1941.6 176.4L1943.1 175.2L1944.5 173.8L1945.9 172.3L1947.0 171.0L1947.8 170.0L1948.4 168.7L1948.9 167.1L1949.3 165.4L1949.7 163.5L1950.1 161.4L1950.6 159.3L1951.1 157.7L1951.8 156.3L1952.9 154.5L1954.1 152.8L1955.5 151.5L1956.9 150.2L1958.5 149.1L1959.9 148.8L1961.5 148.8L1963.2 148.3L1965.0 147.5L1966.8 146.9L1968.5 146.4L1970.1 145.8L1971.8 145.0L1973.5 144.2L1975.2 143.4L1976.8 142.4L1978.3 141.3L1979.8 140.1L1981.1 139.1L1982.2 138.0L1983.3 136.4L1984.3 134.6L1985.3 132.8L1986.4 131.1L1987.5 129.4L1989.2 128.1L1990.9 127.7L1992.6 127.4L1994.2 126.9L1995.6 125.4L1997.0 123.0L1998.3 121.1L1999.5 120.5L2000.4 121.3L2001.3 123.1L2002.1 125.5L2002.9 128.0L2003.8 130.0L2004.9 131.5L2006.4 133.0L2008.1 134.2L2009.9 135.0L2011.6 135.5L2013.3 135.1L2014.9 134.1L2016.7 133.1L2018.4 132.4L2020.3 131.8L2022.2 131.0L2024.1 130.4L2026.0 130.0L2029.0 130.0"/>
<use href="#p3" stroke="#FF7F00" stroke-width="7.6" shape-rendering="geometricPrecision"/>
</g>
<g font-family="Liberation Sans, Arial, Helvetica, sans-serif" fill="#000">
<text transform="translate(209.2 1626.2) scale(0.975 1)" font-size="78.3" text-anchor="middle">2500</text>
<text transform="translate(662.8 1626.2) scale(0.975 1)" font-size="78.3" text-anchor="middle">2000</text>
<text transform="translate(1116.5 1626.2) scale(0.975 1)" font-size="78.3" text-anchor="middle">1500</text>
<text transform="translate(1570.1 1626.2) scale(0.975 1)" font-size="78.3" text-anchor="middle">1000</text>
<text transform="translate(2023.7 1626.2) scale(0.975 1)" font-size="78.3" text-anchor="middle">500</text>
<text x="251.6" y="531.7" font-size="68.6">Cd(II)</text>
<text x="243.7" y="725.7" font-size="68.6">Cr(III)</text>
<text x="251.7" y="968.7" font-size="68.6">Pb(II)</text>
<text x="254.6" y="1312.9" font-size="68.6">Pristine</text>
<text x="732.3" y="1766.9" font-size="83">wavenumbers (cm<tspan x="1408.9" dy="-33.8" font-size="55">−1</tspan><tspan x="1472.4" dy="33.8">)</tspan></text>
<text transform="translate(74.6 1059.6) rotate(-90)" font-size="75.6">Absorbance (a.u.)</text>
</g>
</svg>
</body></html>
